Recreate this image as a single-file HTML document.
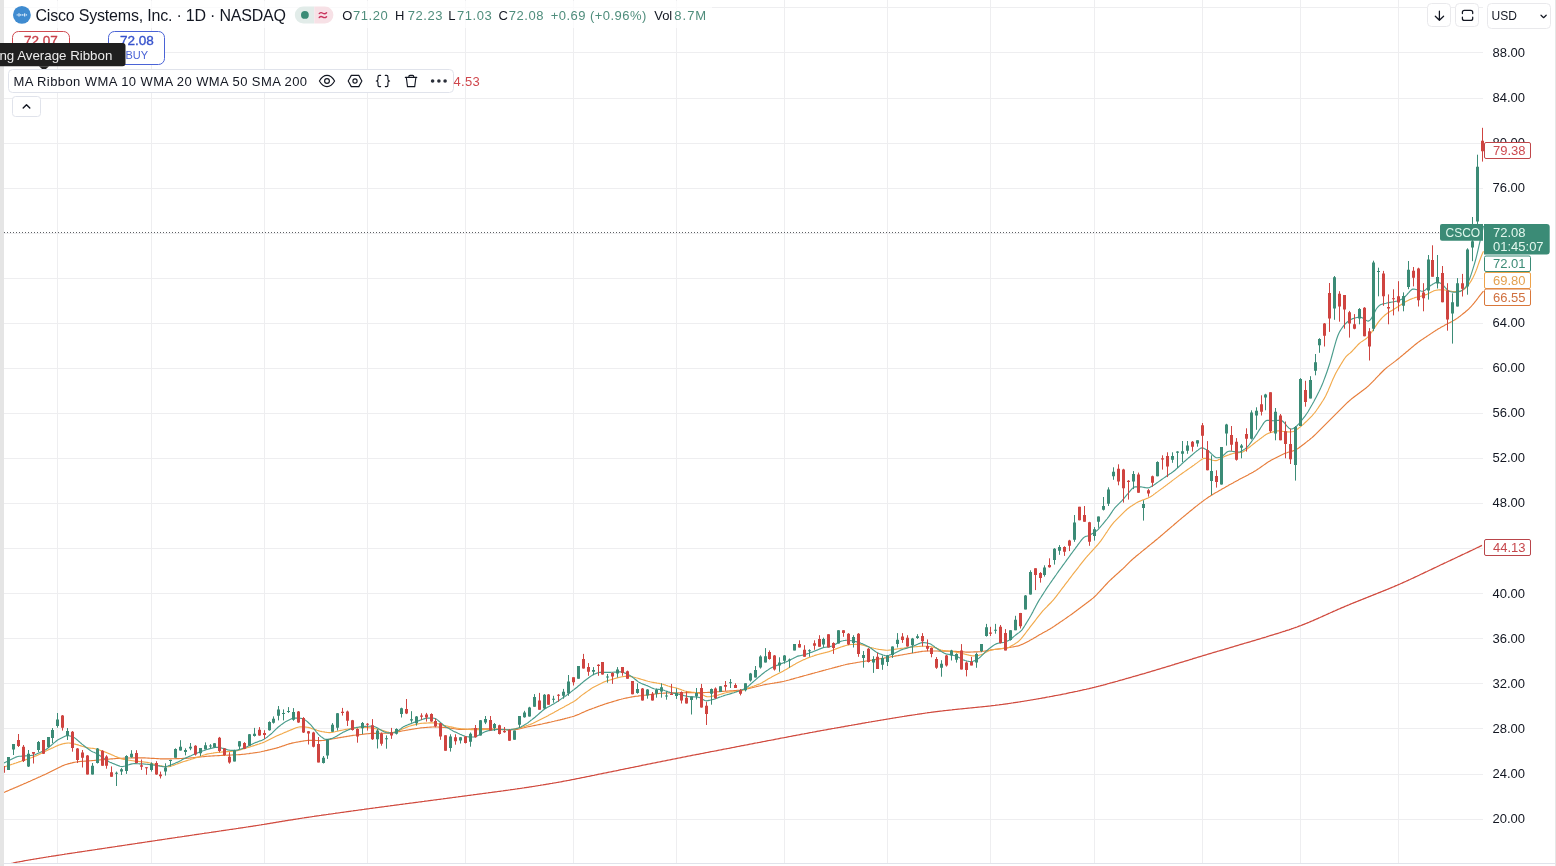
<!DOCTYPE html>
<html><head><meta charset="utf-8"><style>
html,body{margin:0;padding:0}
body{width:1556px;height:866px;overflow:hidden;background:#fff;position:relative;font-family:"Liberation Sans",sans-serif;color:#131722}
svg{position:absolute;left:0;top:0;will-change:transform}
.ax{font-family:"Liberation Sans",sans-serif;font-size:13px;fill:#131722}
.abs{position:absolute;white-space:nowrap}
.lb{font-family:"Liberation Sans",sans-serif;font-size:13px}
.lb2{font-family:"Liberation Sans",sans-serif;font-size:12px}
.t13{font-size:13px;line-height:15px}
.val{color:#4a9e88}
</style></head><body>
<svg width="1556" height="866" viewBox="0 0 1556 866">
<defs><clipPath id="pane"><rect x="4" y="0" width="1480" height="863"/></clipPath></defs>
<rect x="0" y="0" width="4" height="866" fill="#e5e5e5"/>
<rect x="4" y="863" width="1551" height="1" fill="#e0e3eb"/>
<rect x="1555" y="0" width="1" height="866" fill="#e5e5e5"/>
<line x1="4" y1="819.5" x2="1483" y2="819.5" stroke="#eeeef0" stroke-width="1"/>
<line x1="4" y1="774.5" x2="1483" y2="774.5" stroke="#eeeef0" stroke-width="1"/>
<line x1="4" y1="728.5" x2="1483" y2="728.5" stroke="#eeeef0" stroke-width="1"/>
<line x1="4" y1="683.5" x2="1483" y2="683.5" stroke="#eeeef0" stroke-width="1"/>
<line x1="4" y1="638.5" x2="1483" y2="638.5" stroke="#eeeef0" stroke-width="1"/>
<line x1="4" y1="593.5" x2="1483" y2="593.5" stroke="#eeeef0" stroke-width="1"/>
<line x1="4" y1="548.5" x2="1483" y2="548.5" stroke="#eeeef0" stroke-width="1"/>
<line x1="4" y1="503.5" x2="1483" y2="503.5" stroke="#eeeef0" stroke-width="1"/>
<line x1="4" y1="458.5" x2="1483" y2="458.5" stroke="#eeeef0" stroke-width="1"/>
<line x1="4" y1="413.5" x2="1483" y2="413.5" stroke="#eeeef0" stroke-width="1"/>
<line x1="4" y1="368.5" x2="1483" y2="368.5" stroke="#eeeef0" stroke-width="1"/>
<line x1="4" y1="323.5" x2="1483" y2="323.5" stroke="#eeeef0" stroke-width="1"/>
<line x1="4" y1="278.5" x2="1483" y2="278.5" stroke="#eeeef0" stroke-width="1"/>
<line x1="4" y1="233.5" x2="1483" y2="233.5" stroke="#eeeef0" stroke-width="1"/>
<line x1="4" y1="188.5" x2="1483" y2="188.5" stroke="#eeeef0" stroke-width="1"/>
<line x1="4" y1="143.5" x2="1483" y2="143.5" stroke="#eeeef0" stroke-width="1"/>
<line x1="4" y1="98.5" x2="1483" y2="98.5" stroke="#eeeef0" stroke-width="1"/>
<line x1="4" y1="52.5" x2="1483" y2="52.5" stroke="#eeeef0" stroke-width="1"/>
<line x1="4" y1="7.5" x2="1483" y2="7.5" stroke="#eeeef0" stroke-width="1"/>
<line x1="57.5" y1="0" x2="57.5" y2="863" stroke="#eeeef0" stroke-width="1"/>
<line x1="151.5" y1="0" x2="151.5" y2="863" stroke="#eeeef0" stroke-width="1"/>
<line x1="264.5" y1="0" x2="264.5" y2="863" stroke="#eeeef0" stroke-width="1"/>
<line x1="367.5" y1="0" x2="367.5" y2="863" stroke="#eeeef0" stroke-width="1"/>
<line x1="465.5" y1="0" x2="465.5" y2="863" stroke="#eeeef0" stroke-width="1"/>
<line x1="573.5" y1="0" x2="573.5" y2="863" stroke="#eeeef0" stroke-width="1"/>
<line x1="676.5" y1="0" x2="676.5" y2="863" stroke="#eeeef0" stroke-width="1"/>
<line x1="784.5" y1="0" x2="784.5" y2="863" stroke="#eeeef0" stroke-width="1"/>
<line x1="887.5" y1="0" x2="887.5" y2="863" stroke="#eeeef0" stroke-width="1"/>
<line x1="990.5" y1="0" x2="990.5" y2="863" stroke="#eeeef0" stroke-width="1"/>
<line x1="1094.5" y1="0" x2="1094.5" y2="863" stroke="#eeeef0" stroke-width="1"/>
<line x1="1202.5" y1="0" x2="1202.5" y2="863" stroke="#eeeef0" stroke-width="1"/>
<line x1="1300.5" y1="0" x2="1300.5" y2="863" stroke="#eeeef0" stroke-width="1"/>
<line x1="1398.5" y1="0" x2="1398.5" y2="863" stroke="#eeeef0" stroke-width="1"/>
<g clip-path="url(#pane)" fill="none" stroke-linejoin="round">
<polyline points="4.0,865.0 5.0,864.8 6.0,864.6 7.0,864.4 8.0,864.1 9.0,863.9 10.0,863.7 11.0,863.5 12.0,863.3 13.0,863.1 14.0,862.8 15.0,862.6 16.0,862.4 17.0,862.2 18.0,862.0 19.0,861.8 20.0,861.6 21.0,861.5 22.0,861.3 23.0,861.1 24.0,860.9 25.0,860.7 26.0,860.5 27.0,860.3 28.0,860.2 29.0,860.0 30.0,859.8 31.0,859.6 32.0,859.5 33.0,859.3 34.0,859.1 35.0,859.0 36.0,858.8 37.0,858.6 38.0,858.5 39.0,858.3 40.0,858.1 41.0,858.0 42.0,857.8 43.0,857.7 44.0,857.5 45.0,857.3 46.0,857.2 47.0,857.0 48.0,856.9 49.0,856.7 50.0,856.5 51.0,856.4 52.0,856.2 53.0,856.1 54.0,855.9 55.0,855.8 56.0,855.6 57.0,855.4 58.0,855.3 59.0,855.1 60.0,855.0 61.0,854.8 62.0,854.7 63.0,854.5 64.0,854.4 65.0,854.2 66.0,854.0 67.0,853.9 68.0,853.7 69.0,853.6 70.0,853.4 71.0,853.3 72.0,853.1 73.0,853.0 74.0,852.8 75.0,852.7 76.0,852.5 77.0,852.4 78.0,852.2 79.0,852.1 80.0,851.9 81.0,851.8 82.0,851.6 83.0,851.5 84.0,851.3 85.0,851.2 86.0,851.0 87.0,850.9 88.0,850.7 89.0,850.6 90.0,850.4 91.0,850.3 92.0,850.1 93.0,850.0 94.0,849.8 95.0,849.7 96.0,849.5 97.0,849.4 98.0,849.2 99.0,849.1 100.0,848.9 101.0,848.8 102.0,848.6 103.0,848.5 104.0,848.3 105.0,848.2 106.0,848.0 107.0,847.9 108.0,847.7 109.0,847.6 110.0,847.4 111.0,847.3 112.0,847.1 113.0,847.0 114.0,846.8 115.0,846.7 116.0,846.5 117.0,846.4 118.0,846.2 119.0,846.1 120.0,845.9 121.0,845.8 122.0,845.6 123.0,845.5 124.0,845.3 125.0,845.2 126.0,845.0 127.0,844.9 128.0,844.7 129.0,844.6 130.0,844.4 131.0,844.3 132.0,844.1 133.0,844.0 134.0,843.8 135.0,843.7 136.0,843.5 137.0,843.4 138.0,843.2 139.0,843.1 140.0,842.9 141.0,842.8 142.0,842.6 143.0,842.5 144.0,842.3 145.0,842.2 146.0,842.0 147.0,841.9 148.0,841.7 149.0,841.6 150.0,841.4 151.0,841.3 152.0,841.1 153.0,841.0 154.0,840.8 155.0,840.7 156.0,840.5 157.0,840.4 158.0,840.2 159.0,840.1 160.0,839.9 161.0,839.8 162.0,839.6 163.0,839.5 164.0,839.3 165.0,839.2 166.0,839.0 167.0,838.9 168.0,838.7 169.0,838.6 170.0,838.4 171.0,838.3 172.0,838.1 173.0,838.0 174.0,837.8 175.0,837.7 176.0,837.5 177.0,837.4 178.0,837.2 179.0,837.1 180.0,837.0 181.0,836.8 182.0,836.7 183.0,836.5 184.0,836.4 185.0,836.2 186.0,836.1 187.0,835.9 188.0,835.8 189.0,835.6 190.0,835.5 191.0,835.3 192.0,835.2 193.0,835.0 194.0,834.9 195.0,834.7 196.0,834.6 197.0,834.4 198.0,834.3 199.0,834.1 200.0,834.0 201.0,833.8 202.0,833.7 203.0,833.5 204.0,833.4 205.0,833.2 206.0,833.1 207.0,833.0 208.0,832.8 209.0,832.7 210.0,832.5 211.0,832.4 212.0,832.2 213.0,832.1 214.0,831.9 215.0,831.8 216.0,831.6 217.0,831.5 218.0,831.3 219.0,831.2 220.0,831.0 221.0,830.9 222.0,830.7 223.0,830.6 224.0,830.4 225.0,830.3 226.0,830.1 227.0,830.0 228.0,829.8 229.0,829.7 230.0,829.5 231.0,829.4 232.0,829.3 233.0,829.1 234.0,829.0 235.0,828.8 236.0,828.7 237.0,828.5 238.0,828.4 239.0,828.2 240.0,828.1 241.0,827.9 242.0,827.8 243.0,827.6 244.0,827.5 245.0,827.3 246.0,827.2 247.0,827.0 248.0,826.9 249.0,826.7 250.0,826.6 251.0,826.4 252.0,826.3 253.0,826.1 254.0,825.9 255.0,825.8 256.0,825.6 257.0,825.5 258.0,825.3 259.0,825.2 260.0,825.0 261.0,824.9 262.0,824.7 263.0,824.5 264.0,824.4 265.0,824.2 266.0,824.1 267.0,823.9 268.0,823.7 269.0,823.6 270.0,823.4 271.0,823.2 272.0,823.1 273.0,822.9 274.0,822.7 275.0,822.6 276.0,822.4 277.0,822.2 278.0,822.1 279.0,821.9 280.0,821.7 281.0,821.6 282.0,821.4 283.0,821.2 284.0,821.1 285.0,820.9 286.0,820.7 287.0,820.6 288.0,820.4 289.0,820.2 290.0,820.1 291.0,819.9 292.0,819.8 293.0,819.6 294.0,819.4 295.0,819.3 296.0,819.1 297.0,819.0 298.0,818.8 299.0,818.6 300.0,818.5 301.0,818.3 302.0,818.2 303.0,818.0 304.0,817.9 305.0,817.7 306.0,817.6 307.0,817.4 308.0,817.3 309.0,817.1 310.0,817.0 311.0,816.8 312.0,816.7 313.0,816.5 314.0,816.4 315.0,816.2 316.0,816.1 317.0,815.9 318.0,815.8 319.0,815.7 320.0,815.5 321.0,815.4 322.0,815.2 323.0,815.1 324.0,814.9 325.0,814.8 326.0,814.7 327.0,814.5 328.0,814.4 329.0,814.2 330.0,814.1 331.0,814.0 332.0,813.8 333.0,813.7 334.0,813.5 335.0,813.4 336.0,813.2 337.0,813.1 338.0,813.0 339.0,812.8 340.0,812.7 341.0,812.5 342.0,812.4 343.0,812.3 344.0,812.1 345.0,812.0 346.0,811.8 347.0,811.7 348.0,811.6 349.0,811.4 350.0,811.3 351.0,811.1 352.0,811.0 353.0,810.9 354.0,810.7 355.0,810.6 356.0,810.5 357.0,810.3 358.0,810.2 359.0,810.0 360.0,809.9 361.0,809.8 362.0,809.6 363.0,809.5 364.0,809.4 365.0,809.2 366.0,809.1 367.0,808.9 368.0,808.8 369.0,808.7 370.0,808.5 371.0,808.4 372.0,808.3 373.0,808.1 374.0,808.0 375.0,807.9 376.0,807.7 377.0,807.6 378.0,807.5 379.0,807.3 380.0,807.2 381.0,807.1 382.0,806.9 383.0,806.8 384.0,806.7 385.0,806.5 386.0,806.4 387.0,806.3 388.0,806.1 389.0,806.0 390.0,805.9 391.0,805.7 392.0,805.6 393.0,805.5 394.0,805.3 395.0,805.2 396.0,805.1 397.0,804.9 398.0,804.8 399.0,804.7 400.0,804.5 401.0,804.4 402.0,804.3 403.0,804.1 404.0,804.0 405.0,803.9 406.0,803.7 407.0,803.6 408.0,803.5 409.0,803.3 410.0,803.2 411.0,803.1 412.0,803.0 413.0,802.8 414.0,802.7 415.0,802.6 416.0,802.4 417.0,802.3 418.0,802.2 419.0,802.0 420.0,801.9 421.0,801.8 422.0,801.6 423.0,801.5 424.0,801.4 425.0,801.2 426.0,801.1 427.0,801.0 428.0,800.8 429.0,800.7 430.0,800.6 431.0,800.4 432.0,800.3 433.0,800.2 434.0,800.0 435.0,799.9 436.0,799.8 437.0,799.6 438.0,799.5 439.0,799.4 440.0,799.3 441.0,799.1 442.0,799.0 443.0,798.9 444.0,798.7 445.0,798.6 446.0,798.5 447.0,798.3 448.0,798.2 449.0,798.1 450.0,797.9 451.0,797.8 452.0,797.7 453.0,797.5 454.0,797.4 455.0,797.3 456.0,797.1 457.0,797.0 458.0,796.9 459.0,796.7 460.0,796.6 461.0,796.5 462.0,796.3 463.0,796.2 464.0,796.1 465.0,795.9 466.0,795.8 467.0,795.7 468.0,795.5 469.0,795.4 470.0,795.3 471.0,795.1 472.0,795.0 473.0,794.9 474.0,794.7 475.0,794.6 476.0,794.5 477.0,794.3 478.0,794.2 479.0,794.1 480.0,793.9 481.0,793.8 482.0,793.7 483.0,793.5 484.0,793.4 485.0,793.3 486.0,793.1 487.0,793.0 488.0,792.9 489.0,792.7 490.0,792.6 491.0,792.5 492.0,792.3 493.0,792.2 494.0,792.1 495.0,791.9 496.0,791.8 497.0,791.7 498.0,791.5 499.0,791.4 500.0,791.3 501.0,791.1 502.0,791.0 503.0,790.9 504.0,790.7 505.0,790.6 506.0,790.4 507.0,790.3 508.0,790.2 509.0,790.0 510.0,789.9 511.0,789.7 512.0,789.6 513.0,789.5 514.0,789.3 515.0,789.2 516.0,789.0 517.0,788.9 518.0,788.7 519.0,788.6 520.0,788.5 521.0,788.3 522.0,788.2 523.0,788.0 524.0,787.9 525.0,787.7 526.0,787.6 527.0,787.4 528.0,787.3 529.0,787.1 530.0,786.9 531.0,786.8 532.0,786.6 533.0,786.5 534.0,786.3 535.0,786.2 536.0,786.0 537.0,785.8 538.0,785.7 539.0,785.5 540.0,785.4 541.0,785.2 542.0,785.0 543.0,784.9 544.0,784.7 545.0,784.6 546.0,784.4 547.0,784.2 548.0,784.1 549.0,783.9 550.0,783.7 551.0,783.5 552.0,783.4 553.0,783.2 554.0,783.0 555.0,782.8 556.0,782.7 557.0,782.5 558.0,782.3 559.0,782.1 560.0,782.0 561.0,781.8 562.0,781.6 563.0,781.4 564.0,781.2 565.0,781.0 566.0,780.8 567.0,780.6 568.0,780.5 569.0,780.3 570.0,780.1 571.0,779.9 572.0,779.7 573.0,779.5 574.0,779.3 575.0,779.1 576.0,778.9 577.0,778.7 578.0,778.5 579.0,778.3 580.0,778.1 581.0,777.9 582.0,777.7 583.0,777.5 584.0,777.3 585.0,777.1 586.0,776.9 587.0,776.7 588.0,776.5 589.0,776.3 590.0,776.1 591.0,775.9 592.0,775.7 593.0,775.5 594.0,775.3 595.0,775.0 596.0,774.8 597.0,774.6 598.0,774.4 599.0,774.2 600.0,774.0 601.0,773.8 602.0,773.6 603.0,773.4 604.0,773.2 605.0,773.0 606.0,772.8 607.0,772.6 608.0,772.4 609.0,772.2 610.0,772.0 611.0,771.8 612.0,771.6 613.0,771.4 614.0,771.2 615.0,771.0 616.0,770.8 617.0,770.6 618.0,770.4 619.0,770.1 620.0,769.9 621.0,769.7 622.0,769.5 623.0,769.3 624.0,769.1 625.0,768.9 626.0,768.7 627.0,768.5 628.0,768.3 629.0,768.1 630.0,767.9 631.0,767.7 632.0,767.5 633.0,767.3 634.0,767.1 635.0,766.9 636.0,766.7 637.0,766.5 638.0,766.3 639.0,766.1 640.0,765.9 641.0,765.7 642.0,765.4 643.0,765.2 644.0,765.0 645.0,764.8 646.0,764.6 647.0,764.4 648.0,764.2 649.0,764.0 650.0,763.8 651.0,763.6 652.0,763.4 653.0,763.2 654.0,763.0 655.0,762.8 656.0,762.6 657.0,762.4 658.0,762.2 659.0,762.0 660.0,761.8 661.0,761.6 662.0,761.4 663.0,761.2 664.0,761.0 665.0,760.8 666.0,760.6 667.0,760.4 668.0,760.2 669.0,760.0 670.0,759.8 671.0,759.6 672.0,759.4 673.0,759.2 674.0,759.0 675.0,758.8 676.0,758.6 677.0,758.4 678.0,758.2 679.0,758.0 680.0,757.8 681.0,757.6 682.0,757.4 683.0,757.2 684.0,757.0 685.0,756.8 686.0,756.6 687.0,756.4 688.0,756.2 689.0,756.0 690.0,755.8 691.0,755.6 692.0,755.4 693.0,755.2 694.0,755.0 695.0,754.8 696.0,754.6 697.0,754.4 698.0,754.3 699.0,754.1 700.0,753.9 701.0,753.7 702.0,753.5 703.0,753.3 704.0,753.1 705.0,752.9 706.0,752.7 707.0,752.5 708.0,752.3 709.0,752.1 710.0,751.9 711.0,751.7 712.0,751.5 713.0,751.3 714.0,751.2 715.0,751.0 716.0,750.8 717.0,750.6 718.0,750.4 719.0,750.2 720.0,750.0 721.0,749.8 722.0,749.6 723.0,749.4 724.0,749.2 725.0,749.0 726.0,748.8 727.0,748.6 728.0,748.5 729.0,748.3 730.0,748.1 731.0,747.9 732.0,747.7 733.0,747.5 734.0,747.3 735.0,747.1 736.0,746.9 737.0,746.7 738.0,746.5 739.0,746.3 740.0,746.1 741.0,745.9 742.0,745.7 743.0,745.6 744.0,745.4 745.0,745.2 746.0,745.0 747.0,744.8 748.0,744.6 749.0,744.4 750.0,744.2 751.0,744.0 752.0,743.8 753.0,743.6 754.0,743.4 755.0,743.2 756.0,743.0 757.0,742.9 758.0,742.7 759.0,742.5 760.0,742.3 761.0,742.1 762.0,741.9 763.0,741.7 764.0,741.5 765.0,741.3 766.0,741.1 767.0,740.9 768.0,740.7 769.0,740.5 770.0,740.3 771.0,740.2 772.0,740.0 773.0,739.8 774.0,739.6 775.0,739.4 776.0,739.2 777.0,739.0 778.0,738.8 779.0,738.6 780.0,738.4 781.0,738.2 782.0,738.0 783.0,737.8 784.0,737.7 785.0,737.5 786.0,737.3 787.0,737.1 788.0,736.9 789.0,736.7 790.0,736.5 791.0,736.3 792.0,736.1 793.0,735.9 794.0,735.7 795.0,735.6 796.0,735.4 797.0,735.2 798.0,735.0 799.0,734.8 800.0,734.6 801.0,734.4 802.0,734.2 803.0,734.0 804.0,733.9 805.0,733.7 806.0,733.5 807.0,733.3 808.0,733.1 809.0,732.9 810.0,732.7 811.0,732.5 812.0,732.4 813.0,732.2 814.0,732.0 815.0,731.8 816.0,731.6 817.0,731.4 818.0,731.2 819.0,731.1 820.0,730.9 821.0,730.7 822.0,730.5 823.0,730.3 824.0,730.1 825.0,730.0 826.0,729.8 827.0,729.6 828.0,729.4 829.0,729.2 830.0,729.1 831.0,728.9 832.0,728.7 833.0,728.5 834.0,728.4 835.0,728.2 836.0,728.0 837.0,727.8 838.0,727.6 839.0,727.5 840.0,727.3 841.0,727.1 842.0,726.9 843.0,726.8 844.0,726.6 845.0,726.4 846.0,726.2 847.0,726.1 848.0,725.9 849.0,725.7 850.0,725.5 851.0,725.4 852.0,725.2 853.0,725.0 854.0,724.8 855.0,724.6 856.0,724.5 857.0,724.3 858.0,724.1 859.0,723.9 860.0,723.8 861.0,723.6 862.0,723.4 863.0,723.2 864.0,723.1 865.0,722.9 866.0,722.7 867.0,722.5 868.0,722.4 869.0,722.2 870.0,722.0 871.0,721.9 872.0,721.7 873.0,721.5 874.0,721.3 875.0,721.2 876.0,721.0 877.0,720.8 878.0,720.6 879.0,720.5 880.0,720.3 881.0,720.1 882.0,720.0 883.0,719.8 884.0,719.6 885.0,719.5 886.0,719.3 887.0,719.1 888.0,719.0 889.0,718.8 890.0,718.6 891.0,718.5 892.0,718.3 893.0,718.1 894.0,718.0 895.0,717.8 896.0,717.6 897.0,717.5 898.0,717.3 899.0,717.2 900.0,717.0 901.0,716.8 902.0,716.7 903.0,716.5 904.0,716.4 905.0,716.2 906.0,716.1 907.0,715.9 908.0,715.7 909.0,715.6 910.0,715.4 911.0,715.3 912.0,715.1 913.0,715.0 914.0,714.8 915.0,714.7 916.0,714.5 917.0,714.4 918.0,714.2 919.0,714.1 920.0,713.9 921.0,713.8 922.0,713.6 923.0,713.5 924.0,713.3 925.0,713.2 926.0,713.0 927.0,712.9 928.0,712.7 929.0,712.6 930.0,712.5 931.0,712.3 932.0,712.2 933.0,712.1 934.0,711.9 935.0,711.8 936.0,711.7 937.0,711.6 938.0,711.4 939.0,711.3 940.0,711.2 941.0,711.1 942.0,711.0 943.0,710.8 944.0,710.7 945.0,710.6 946.0,710.5 947.0,710.4 948.0,710.3 949.0,710.2 950.0,710.1 951.0,710.0 952.0,709.9 953.0,709.7 954.0,709.6 955.0,709.5 956.0,709.4 957.0,709.3 958.0,709.2 959.0,709.1 960.0,709.0 961.0,708.9 962.0,708.8 963.0,708.7 964.0,708.6 965.0,708.5 966.0,708.4 967.0,708.3 968.0,708.2 969.0,708.1 970.0,708.0 971.0,707.9 972.0,707.8 973.0,707.7 974.0,707.6 975.0,707.5 976.0,707.4 977.0,707.3 978.0,707.2 979.0,707.1 980.0,707.0 981.0,706.9 982.0,706.8 983.0,706.7 984.0,706.6 985.0,706.5 986.0,706.4 987.0,706.3 988.0,706.2 989.0,706.1 990.0,706.0 991.0,705.8 992.0,705.7 993.0,705.6 994.0,705.5 995.0,705.4 996.0,705.2 997.0,705.1 998.0,705.0 999.0,704.9 1000.0,704.7 1001.0,704.6 1002.0,704.5 1003.0,704.3 1004.0,704.2 1005.0,704.1 1006.0,703.9 1007.0,703.8 1008.0,703.6 1009.0,703.5 1010.0,703.3 1011.0,703.2 1012.0,703.0 1013.0,702.9 1014.0,702.7 1015.0,702.6 1016.0,702.4 1017.0,702.3 1018.0,702.1 1019.0,702.0 1020.0,701.8 1021.0,701.6 1022.0,701.5 1023.0,701.3 1024.0,701.2 1025.0,701.0 1026.0,700.8 1027.0,700.7 1028.0,700.5 1029.0,700.3 1030.0,700.2 1031.0,700.0 1032.0,699.8 1033.0,699.7 1034.0,699.5 1035.0,699.3 1036.0,699.2 1037.0,699.0 1038.0,698.8 1039.0,698.6 1040.0,698.5 1041.0,698.3 1042.0,698.1 1043.0,697.9 1044.0,697.8 1045.0,697.6 1046.0,697.4 1047.0,697.2 1048.0,697.0 1049.0,696.9 1050.0,696.7 1051.0,696.5 1052.0,696.3 1053.0,696.1 1054.0,695.9 1055.0,695.7 1056.0,695.5 1057.0,695.3 1058.0,695.2 1059.0,695.0 1060.0,694.8 1061.0,694.6 1062.0,694.4 1063.0,694.2 1064.0,694.0 1065.0,693.8 1066.0,693.6 1067.0,693.3 1068.0,693.1 1069.0,692.9 1070.0,692.7 1071.0,692.5 1072.0,692.3 1073.0,692.1 1074.0,691.9 1075.0,691.7 1076.0,691.5 1077.0,691.3 1078.0,691.0 1079.0,690.8 1080.0,690.6 1081.0,690.4 1082.0,690.2 1083.0,689.9 1084.0,689.7 1085.0,689.5 1086.0,689.3 1087.0,689.0 1088.0,688.8 1089.0,688.6 1090.0,688.3 1091.0,688.1 1092.0,687.9 1093.0,687.6 1094.0,687.4 1095.0,687.1 1096.0,686.9 1097.0,686.6 1098.0,686.4 1099.0,686.1 1100.0,685.9 1101.0,685.6 1102.0,685.3 1103.0,685.1 1104.0,684.8 1105.0,684.6 1106.0,684.3 1107.0,684.0 1108.0,683.7 1109.0,683.5 1110.0,683.2 1111.0,682.9 1112.0,682.7 1113.0,682.4 1114.0,682.1 1115.0,681.8 1116.0,681.5 1117.0,681.3 1118.0,681.0 1119.0,680.7 1120.0,680.4 1121.0,680.1 1122.0,679.9 1123.0,679.6 1124.0,679.3 1125.0,679.0 1126.0,678.7 1127.0,678.4 1128.0,678.2 1129.0,677.9 1130.0,677.6 1131.0,677.3 1132.0,677.0 1133.0,676.7 1134.0,676.4 1135.0,676.2 1136.0,675.9 1137.0,675.6 1138.0,675.3 1139.0,675.0 1140.0,674.7 1141.0,674.4 1142.0,674.1 1143.0,673.8 1144.0,673.6 1145.0,673.3 1146.0,673.0 1147.0,672.7 1148.0,672.4 1149.0,672.1 1150.0,671.8 1151.0,671.5 1152.0,671.2 1153.0,670.9 1154.0,670.6 1155.0,670.3 1156.0,670.0 1157.0,669.7 1158.0,669.4 1159.0,669.1 1160.0,668.8 1161.0,668.5 1162.0,668.2 1163.0,667.9 1164.0,667.6 1165.0,667.3 1166.0,667.0 1167.0,666.7 1168.0,666.4 1169.0,666.1 1170.0,665.8 1171.0,665.5 1172.0,665.2 1173.0,664.9 1174.0,664.6 1175.0,664.2 1176.0,663.9 1177.0,663.6 1178.0,663.3 1179.0,663.0 1180.0,662.7 1181.0,662.4 1182.0,662.1 1183.0,661.8 1184.0,661.5 1185.0,661.2 1186.0,660.9 1187.0,660.6 1188.0,660.3 1189.0,660.0 1190.0,659.7 1191.0,659.4 1192.0,659.1 1193.0,658.7 1194.0,658.4 1195.0,658.1 1196.0,657.8 1197.0,657.5 1198.0,657.2 1199.0,656.9 1200.0,656.6 1201.0,656.3 1202.0,656.0 1203.0,655.7 1204.0,655.4 1205.0,655.1 1206.0,654.8 1207.0,654.5 1208.0,654.2 1209.0,653.9 1210.0,653.6 1211.0,653.3 1212.0,653.0 1213.0,652.7 1214.0,652.4 1215.0,652.1 1216.0,651.8 1217.0,651.5 1218.0,651.2 1219.0,651.0 1220.0,650.7 1221.0,650.4 1222.0,650.1 1223.0,649.8 1224.0,649.5 1225.0,649.2 1226.0,648.9 1227.0,648.6 1228.0,648.3 1229.0,648.0 1230.0,647.7 1231.0,647.4 1232.0,647.1 1233.0,646.8 1234.0,646.5 1235.0,646.2 1236.0,645.9 1237.0,645.6 1238.0,645.3 1239.0,645.0 1240.0,644.7 1241.0,644.4 1242.0,644.1 1243.0,643.8 1244.0,643.5 1245.0,643.2 1246.0,643.0 1247.0,642.7 1248.0,642.4 1249.0,642.1 1250.0,641.8 1251.0,641.5 1252.0,641.2 1253.0,640.9 1254.0,640.6 1255.0,640.3 1256.0,640.0 1257.0,639.7 1258.0,639.4 1259.0,639.1 1260.0,638.8 1261.0,638.5 1262.0,638.2 1263.0,637.9 1264.0,637.6 1265.0,637.3 1266.0,637.0 1267.0,636.6 1268.0,636.3 1269.0,636.0 1270.0,635.7 1271.0,635.4 1272.0,635.1 1273.0,634.8 1274.0,634.5 1275.0,634.2 1276.0,633.9 1277.0,633.6 1278.0,633.3 1279.0,633.0 1280.0,632.7 1281.0,632.3 1282.0,632.0 1283.0,631.7 1284.0,631.4 1285.0,631.1 1286.0,630.7 1287.0,630.4 1288.0,630.1 1289.0,629.8 1290.0,629.4 1291.0,629.1 1292.0,628.7 1293.0,628.4 1294.0,628.0 1295.0,627.7 1296.0,627.3 1297.0,627.0 1298.0,626.6 1299.0,626.2 1300.0,625.8 1301.0,625.5 1302.0,625.1 1303.0,624.7 1304.0,624.3 1305.0,623.9 1306.0,623.5 1307.0,623.1 1308.0,622.7 1309.0,622.3 1310.0,621.8 1311.0,621.4 1312.0,621.0 1313.0,620.6 1314.0,620.1 1315.0,619.7 1316.0,619.2 1317.0,618.8 1318.0,618.4 1319.0,617.9 1320.0,617.5 1321.0,617.0 1322.0,616.6 1323.0,616.1 1324.0,615.7 1325.0,615.2 1326.0,614.8 1327.0,614.3 1328.0,613.9 1329.0,613.4 1330.0,613.0 1331.0,612.5 1332.0,612.1 1333.0,611.6 1334.0,611.2 1335.0,610.8 1336.0,610.3 1337.0,609.9 1338.0,609.4 1339.0,609.0 1340.0,608.6 1341.0,608.1 1342.0,607.7 1343.0,607.3 1344.0,606.9 1345.0,606.4 1346.0,606.0 1347.0,605.6 1348.0,605.2 1349.0,604.8 1350.0,604.3 1351.0,603.9 1352.0,603.5 1353.0,603.1 1354.0,602.7 1355.0,602.3 1356.0,601.9 1357.0,601.5 1358.0,601.1 1359.0,600.7 1360.0,600.3 1361.0,599.9 1362.0,599.5 1363.0,599.1 1364.0,598.7 1365.0,598.3 1366.0,597.9 1367.0,597.5 1368.0,597.1 1369.0,596.7 1370.0,596.3 1371.0,595.9 1372.0,595.5 1373.0,595.1 1374.0,594.7 1375.0,594.3 1376.0,593.9 1377.0,593.5 1378.0,593.1 1379.0,592.7 1380.0,592.3 1381.0,591.9 1382.0,591.5 1383.0,591.1 1384.0,590.7 1385.0,590.3 1386.0,589.9 1387.0,589.5 1388.0,589.1 1389.0,588.7 1390.0,588.2 1391.0,587.8 1392.0,587.4 1393.0,587.0 1394.0,586.6 1395.0,586.1 1396.0,585.7 1397.0,585.3 1398.0,584.8 1399.0,584.4 1400.0,584.0 1401.0,583.5 1402.0,583.1 1403.0,582.6 1404.0,582.2 1405.0,581.7 1406.0,581.3 1407.0,580.8 1408.0,580.4 1409.0,579.9 1410.0,579.5 1411.0,579.0 1412.0,578.5 1413.0,578.1 1414.0,577.6 1415.0,577.1 1416.0,576.7 1417.0,576.2 1418.0,575.7 1419.0,575.3 1420.0,574.8 1421.0,574.3 1422.0,573.8 1423.0,573.4 1424.0,572.9 1425.0,572.4 1426.0,571.9 1427.0,571.5 1428.0,571.0 1429.0,570.5 1430.0,570.0 1431.0,569.6 1432.0,569.1 1433.0,568.6 1434.0,568.1 1435.0,567.7 1436.0,567.2 1437.0,566.7 1438.0,566.2 1439.0,565.8 1440.0,565.3 1441.0,564.8 1442.0,564.3 1443.0,563.9 1444.0,563.4 1445.0,562.9 1446.0,562.5 1447.0,562.0 1448.0,561.5 1449.0,561.0 1450.0,560.6 1451.0,560.1 1452.0,559.6 1453.0,559.2 1454.0,558.7 1455.0,558.2 1456.0,557.7 1457.0,557.3 1458.0,556.8 1459.0,556.3 1460.0,555.9 1461.0,555.4 1462.0,554.9 1463.0,554.4 1464.0,554.0 1465.0,553.5 1466.0,553.0 1467.0,552.6 1468.0,552.1 1469.0,551.6 1470.0,551.1 1471.0,550.7 1472.0,550.2 1473.0,549.7 1474.0,549.2 1475.0,548.8 1476.0,548.3 1477.0,547.8 1478.0,547.3 1479.0,546.9 1480.0,546.4 1481.0,545.9 1482.0,545.4" stroke="#d04a3e" stroke-width="1.25"/>
<polyline points="4.0,792.4 5.0,792.0 6.0,791.5 7.0,791.1 8.0,790.7 9.0,790.3 10.0,789.8 11.0,789.4 12.0,789.0 13.0,788.6 14.0,788.1 15.0,787.7 16.0,787.3 17.0,786.9 18.0,786.4 19.0,786.0 20.0,785.6 21.0,785.1 22.0,784.7 23.0,784.3 24.0,783.8 25.0,783.4 26.0,783.0 27.0,782.5 28.0,782.1 29.0,781.6 30.0,781.2 31.0,780.7 32.0,780.3 33.0,779.8 34.0,779.4 35.0,778.9 36.0,778.5 37.0,778.0 38.0,777.6 39.0,777.1 40.0,776.7 41.0,776.2 42.0,775.8 43.0,775.3 44.0,774.9 45.0,774.4 46.0,774.0 47.0,773.5 48.0,773.0 49.0,772.5 50.0,772.0 51.0,771.5 52.0,771.0 53.0,770.5 54.0,770.0 55.0,769.5 56.0,769.0 57.0,768.5 58.0,768.0 59.0,767.5 60.0,767.0 61.0,766.6 62.0,766.1 63.0,765.6 64.0,765.2 65.0,764.8 66.0,764.5 67.0,764.2 68.0,763.9 69.0,763.6 70.0,763.4 71.0,763.1 72.0,762.9 73.0,762.6 74.0,762.4 75.0,762.2 76.0,762.0 77.0,761.9 78.0,761.7 79.0,761.6 80.0,761.5 81.0,761.4 82.0,761.4 83.0,761.3 84.0,761.2 85.0,761.1 86.0,761.1 87.0,761.0 88.0,760.9 89.0,760.9 90.0,760.8 91.0,760.7 92.0,760.6 93.0,760.5 94.0,760.5 95.0,760.4 96.0,760.3 97.0,760.2 98.0,760.1 99.0,760.0 100.0,759.9 101.0,759.8 102.0,759.7 103.0,759.6 104.0,759.6 105.0,759.5 106.0,759.4 107.0,759.3 108.0,759.2 109.0,759.1 110.0,759.0 111.0,758.9 112.0,758.8 113.0,758.8 114.0,758.7 115.0,758.6 116.0,758.5 117.0,758.4 118.0,758.4 119.0,758.3 120.0,758.3 121.0,758.2 122.0,758.2 123.0,758.2 124.0,758.1 125.0,758.1 126.0,758.1 127.0,758.1 128.0,758.0 129.0,758.0 130.0,758.0 131.0,758.0 132.0,757.9 133.0,757.9 134.0,757.9 135.0,757.9 136.0,757.8 137.0,757.8 138.0,757.8 139.0,757.8 140.0,757.8 141.0,757.8 142.0,757.8 143.0,757.8 144.0,757.9 145.0,757.9 146.0,758.0 147.0,758.0 148.0,758.1 149.0,758.1 150.0,758.2 151.0,758.3 152.0,758.3 153.0,758.4 154.0,758.4 155.0,758.5 156.0,758.5 157.0,758.6 158.0,758.6 159.0,758.7 160.0,758.8 161.0,758.8 162.0,758.8 163.0,758.9 164.0,758.9 165.0,758.9 166.0,758.9 167.0,758.9 168.0,758.9 169.0,758.9 170.0,758.8 171.0,758.8 172.0,758.8 173.0,758.7 174.0,758.7 175.0,758.7 176.0,758.6 177.0,758.6 178.0,758.6 179.0,758.6 180.0,758.5 181.0,758.5 182.0,758.5 183.0,758.4 184.0,758.4 185.0,758.4 186.0,758.3 187.0,758.3 188.0,758.2 189.0,758.1 190.0,758.0 191.0,757.9 192.0,757.8 193.0,757.7 194.0,757.6 195.0,757.5 196.0,757.4 197.0,757.3 198.0,757.2 199.0,757.1 200.0,757.0 201.0,756.9 202.0,756.8 203.0,756.7 204.0,756.6 205.0,756.5 206.0,756.4 207.0,756.3 208.0,756.2 209.0,756.1 210.0,756.1 211.0,756.0 212.0,756.0 213.0,755.9 214.0,755.9 215.0,755.8 216.0,755.7 217.0,755.7 218.0,755.6 219.0,755.6 220.0,755.5 221.0,755.5 222.0,755.4 223.0,755.4 224.0,755.3 225.0,755.3 226.0,755.2 227.0,755.2 228.0,755.1 229.0,755.1 230.0,755.1 231.0,755.0 232.0,755.0 233.0,754.9 234.0,754.9 235.0,754.8 236.0,754.8 237.0,754.7 238.0,754.7 239.0,754.6 240.0,754.6 241.0,754.5 242.0,754.4 243.0,754.3 244.0,754.2 245.0,754.1 246.0,754.0 247.0,753.8 248.0,753.7 249.0,753.6 250.0,753.4 251.0,753.3 252.0,753.2 253.0,753.0 254.0,752.9 255.0,752.8 256.0,752.6 257.0,752.5 258.0,752.3 259.0,752.2 260.0,752.0 261.0,751.8 262.0,751.5 263.0,751.3 264.0,751.1 265.0,750.8 266.0,750.6 267.0,750.4 268.0,750.1 269.0,749.9 270.0,749.7 271.0,749.4 272.0,749.2 273.0,748.9 274.0,748.7 275.0,748.4 276.0,748.2 277.0,747.9 278.0,747.6 279.0,747.3 280.0,746.9 281.0,746.6 282.0,746.2 283.0,745.9 284.0,745.6 285.0,745.2 286.0,744.9 287.0,744.5 288.0,744.2 289.0,743.9 290.0,743.6 291.0,743.4 292.0,743.1 293.0,742.9 294.0,742.7 295.0,742.5 296.0,742.3 297.0,742.1 298.0,742.0 299.0,741.8 300.0,741.6 301.0,741.4 302.0,741.3 303.0,741.1 304.0,740.9 305.0,740.8 306.0,740.6 307.0,740.5 308.0,740.4 309.0,740.4 310.0,740.3 311.0,740.3 312.0,740.3 313.0,740.4 314.0,740.4 315.0,740.4 316.0,740.5 317.0,740.5 318.0,740.5 319.0,740.6 320.0,740.6 321.0,740.6 322.0,740.5 323.0,740.5 324.0,740.4 325.0,740.3 326.0,740.1 327.0,740.0 328.0,739.8 329.0,739.6 330.0,739.4 331.0,739.2 332.0,739.0 333.0,738.8 334.0,738.7 335.0,738.5 336.0,738.3 337.0,738.1 338.0,737.9 339.0,737.8 340.0,737.6 341.0,737.4 342.0,737.3 343.0,737.1 344.0,736.9 345.0,736.8 346.0,736.6 347.0,736.4 348.0,736.3 349.0,736.1 350.0,735.9 351.0,735.8 352.0,735.6 353.0,735.4 354.0,735.3 355.0,735.2 356.0,735.0 357.0,734.9 358.0,734.8 359.0,734.7 360.0,734.6 361.0,734.5 362.0,734.4 363.0,734.2 364.0,734.1 365.0,734.0 366.0,733.9 367.0,733.8 368.0,733.7 369.0,733.6 370.0,733.5 371.0,733.4 372.0,733.4 373.0,733.3 374.0,733.3 375.0,733.3 376.0,733.3 377.0,733.2 378.0,733.2 379.0,733.2 380.0,733.2 381.0,733.2 382.0,733.2 383.0,733.2 384.0,733.2 385.0,733.2 386.0,733.2 387.0,733.1 388.0,733.1 389.0,733.1 390.0,733.0 391.0,733.0 392.0,732.9 393.0,732.7 394.0,732.6 395.0,732.4 396.0,732.2 397.0,732.0 398.0,731.8 399.0,731.6 400.0,731.4 401.0,731.2 402.0,731.0 403.0,730.8 404.0,730.7 405.0,730.5 406.0,730.3 407.0,730.1 408.0,730.0 409.0,729.8 410.0,729.6 411.0,729.5 412.0,729.3 413.0,729.1 414.0,729.0 415.0,728.8 416.0,728.6 417.0,728.5 418.0,728.3 419.0,728.2 420.0,728.0 421.0,727.9 422.0,727.8 423.0,727.7 424.0,727.6 425.0,727.5 426.0,727.5 427.0,727.4 428.0,727.3 429.0,727.2 430.0,727.1 431.0,727.1 432.0,727.0 433.0,727.0 434.0,726.9 435.0,726.9 436.0,727.0 437.0,727.0 438.0,727.0 439.0,727.1 440.0,727.2 441.0,727.2 442.0,727.3 443.0,727.4 444.0,727.4 445.0,727.5 446.0,727.6 447.0,727.7 448.0,727.8 449.0,727.9 450.0,728.1 451.0,728.2 452.0,728.4 453.0,728.5 454.0,728.7 455.0,728.8 456.0,729.0 457.0,729.1 458.0,729.2 459.0,729.4 460.0,729.4 461.0,729.5 462.0,729.5 463.0,729.5 464.0,729.4 465.0,729.4 466.0,729.3 467.0,729.3 468.0,729.2 469.0,729.1 470.0,729.1 471.0,729.0 472.0,728.9 473.0,728.9 474.0,728.8 475.0,728.8 476.0,728.8 477.0,728.8 478.0,728.8 479.0,728.8 480.0,728.8 481.0,728.8 482.0,728.8 483.0,728.8 484.0,728.9 485.0,728.9 486.0,728.9 487.0,728.9 488.0,728.9 489.0,728.9 490.0,729.0 491.0,729.0 492.0,729.0 493.0,729.0 494.0,729.0 495.0,729.0 496.0,729.1 497.0,729.1 498.0,729.1 499.0,729.2 500.0,729.2 501.0,729.2 502.0,729.3 503.0,729.3 504.0,729.4 505.0,729.4 506.0,729.5 507.0,729.5 508.0,729.6 509.0,729.6 510.0,729.6 511.0,729.7 512.0,729.7 513.0,729.7 514.0,729.7 515.0,729.6 516.0,729.5 517.0,729.4 518.0,729.2 519.0,729.0 520.0,728.7 521.0,728.5 522.0,728.3 523.0,728.0 524.0,727.8 525.0,727.5 526.0,727.3 527.0,727.0 528.0,726.8 529.0,726.6 530.0,726.4 531.0,726.2 532.0,726.0 533.0,725.8 534.0,725.6 535.0,725.4 536.0,725.2 537.0,725.0 538.0,724.8 539.0,724.6 540.0,724.4 541.0,724.2 542.0,724.0 543.0,723.7 544.0,723.5 545.0,723.3 546.0,723.1 547.0,722.9 548.0,722.6 549.0,722.4 550.0,722.2 551.0,722.0 552.0,721.7 553.0,721.5 554.0,721.3 555.0,721.0 556.0,720.8 557.0,720.6 558.0,720.3 559.0,720.1 560.0,719.9 561.0,719.6 562.0,719.4 563.0,719.1 564.0,718.9 565.0,718.6 566.0,718.3 567.0,718.1 568.0,717.8 569.0,717.6 570.0,717.3 571.0,717.0 572.0,716.8 573.0,716.5 574.0,716.2 575.0,715.8 576.0,715.4 577.0,715.0 578.0,714.6 579.0,714.2 580.0,713.7 581.0,713.3 582.0,712.8 583.0,712.4 584.0,711.9 585.0,711.5 586.0,711.0 587.0,710.6 588.0,710.2 589.0,709.8 590.0,709.4 591.0,709.1 592.0,708.7 593.0,708.3 594.0,708.0 595.0,707.6 596.0,707.2 597.0,706.9 598.0,706.5 599.0,706.1 600.0,705.8 601.0,705.4 602.0,705.1 603.0,704.7 604.0,704.4 605.0,704.0 606.0,703.7 607.0,703.4 608.0,703.1 609.0,702.8 610.0,702.5 611.0,702.2 612.0,701.9 613.0,701.6 614.0,701.3 615.0,701.0 616.0,700.7 617.0,700.4 618.0,700.1 619.0,699.8 620.0,699.5 621.0,699.3 622.0,699.0 623.0,698.8 624.0,698.5 625.0,698.3 626.0,698.1 627.0,697.9 628.0,697.7 629.0,697.5 630.0,697.3 631.0,697.1 632.0,696.9 633.0,696.8 634.0,696.6 635.0,696.4 636.0,696.3 637.0,696.2 638.0,696.1 639.0,695.9 640.0,695.8 641.0,695.7 642.0,695.6 643.0,695.4 644.0,695.3 645.0,695.2 646.0,695.1 647.0,695.0 648.0,694.8 649.0,694.7 650.0,694.6 651.0,694.5 652.0,694.4 653.0,694.2 654.0,694.1 655.0,694.0 656.0,693.9 657.0,693.8 658.0,693.6 659.0,693.5 660.0,693.4 661.0,693.3 662.0,693.2 663.0,693.2 664.0,693.1 665.0,693.1 666.0,693.0 667.0,693.0 668.0,693.0 669.0,693.0 670.0,693.0 671.0,692.9 672.0,692.9 673.0,692.9 674.0,692.9 675.0,692.9 676.0,692.8 677.0,692.8 678.0,692.8 679.0,692.8 680.0,692.8 681.0,692.7 682.0,692.7 683.0,692.7 684.0,692.7 685.0,692.7 686.0,692.6 687.0,692.6 688.0,692.6 689.0,692.6 690.0,692.6 691.0,692.6 692.0,692.6 693.0,692.6 694.0,692.6 695.0,692.6 696.0,692.6 697.0,692.6 698.0,692.6 699.0,692.6 700.0,692.6 701.0,692.6 702.0,692.6 703.0,692.6 704.0,692.6 705.0,692.5 706.0,692.5 707.0,692.5 708.0,692.4 709.0,692.3 710.0,692.3 711.0,692.2 712.0,692.1 713.0,692.1 714.0,692.0 715.0,691.9 716.0,691.9 717.0,691.8 718.0,691.7 719.0,691.7 720.0,691.6 721.0,691.5 722.0,691.4 723.0,691.4 724.0,691.3 725.0,691.2 726.0,691.2 727.0,691.1 728.0,691.0 729.0,691.0 730.0,690.9 731.0,690.8 732.0,690.8 733.0,690.7 734.0,690.6 735.0,690.5 736.0,690.5 737.0,690.4 738.0,690.3 739.0,690.2 740.0,690.1 741.0,689.9 742.0,689.8 743.0,689.6 744.0,689.4 745.0,689.2 746.0,689.0 747.0,688.8 748.0,688.6 749.0,688.4 750.0,688.2 751.0,688.0 752.0,687.8 753.0,687.5 754.0,687.3 755.0,687.0 756.0,686.8 757.0,686.5 758.0,686.3 759.0,686.0 760.0,685.8 761.0,685.5 762.0,685.3 763.0,685.0 764.0,684.8 765.0,684.6 766.0,684.4 767.0,684.2 768.0,684.0 769.0,683.9 770.0,683.7 771.0,683.5 772.0,683.4 773.0,683.2 774.0,683.1 775.0,682.9 776.0,682.7 777.0,682.6 778.0,682.4 779.0,682.3 780.0,682.1 781.0,681.9 782.0,681.7 783.0,681.5 784.0,681.3 785.0,681.0 786.0,680.8 787.0,680.5 788.0,680.2 789.0,680.0 790.0,679.7 791.0,679.4 792.0,679.1 793.0,678.9 794.0,678.6 795.0,678.3 796.0,678.0 797.0,677.7 798.0,677.5 799.0,677.2 800.0,676.9 801.0,676.6 802.0,676.4 803.0,676.1 804.0,675.8 805.0,675.5 806.0,675.3 807.0,675.0 808.0,674.7 809.0,674.4 810.0,674.2 811.0,673.9 812.0,673.6 813.0,673.3 814.0,673.1 815.0,672.8 816.0,672.5 817.0,672.3 818.0,672.0 819.0,671.7 820.0,671.4 821.0,671.2 822.0,670.9 823.0,670.6 824.0,670.3 825.0,670.1 826.0,669.8 827.0,669.5 828.0,669.3 829.0,669.0 830.0,668.7 831.0,668.5 832.0,668.2 833.0,667.9 834.0,667.7 835.0,667.4 836.0,667.1 837.0,666.9 838.0,666.6 839.0,666.3 840.0,666.1 841.0,665.8 842.0,665.5 843.0,665.3 844.0,665.0 845.0,664.8 846.0,664.5 847.0,664.3 848.0,664.1 849.0,663.9 850.0,663.7 851.0,663.5 852.0,663.4 853.0,663.2 854.0,663.0 855.0,662.9 856.0,662.7 857.0,662.5 858.0,662.3 859.0,662.2 860.0,662.0 861.0,661.8 862.0,661.7 863.0,661.5 864.0,661.4 865.0,661.2 866.0,661.0 867.0,660.9 868.0,660.7 869.0,660.6 870.0,660.4 871.0,660.2 872.0,660.1 873.0,659.9 874.0,659.8 875.0,659.6 876.0,659.4 877.0,659.3 878.0,659.1 879.0,658.9 880.0,658.8 881.0,658.6 882.0,658.4 883.0,658.2 884.0,658.1 885.0,657.9 886.0,657.7 887.0,657.5 888.0,657.3 889.0,657.2 890.0,657.0 891.0,656.8 892.0,656.6 893.0,656.5 894.0,656.3 895.0,656.1 896.0,655.9 897.0,655.7 898.0,655.6 899.0,655.4 900.0,655.2 901.0,655.0 902.0,654.9 903.0,654.7 904.0,654.5 905.0,654.3 906.0,654.2 907.0,654.0 908.0,653.8 909.0,653.6 910.0,653.5 911.0,653.3 912.0,653.1 913.0,653.0 914.0,652.8 915.0,652.6 916.0,652.4 917.0,652.3 918.0,652.1 919.0,651.9 920.0,651.8 921.0,651.6 922.0,651.4 923.0,651.3 924.0,651.2 925.0,651.1 926.0,651.1 927.0,651.0 928.0,651.0 929.0,651.0 930.0,651.0 931.0,651.0 932.0,651.0 933.0,651.0 934.0,651.0 935.0,651.0 936.0,651.0 937.0,651.0 938.0,651.0 939.0,651.1 940.0,651.1 941.0,651.1 942.0,651.1 943.0,651.1 944.0,651.1 945.0,651.1 946.0,651.2 947.0,651.2 948.0,651.2 949.0,651.2 950.0,651.2 951.0,651.2 952.0,651.3 953.0,651.3 954.0,651.3 955.0,651.4 956.0,651.4 957.0,651.5 958.0,651.5 959.0,651.6 960.0,651.7 961.0,651.7 962.0,651.8 963.0,651.9 964.0,651.9 965.0,652.0 966.0,652.1 967.0,652.1 968.0,652.1 969.0,652.1 970.0,652.1 971.0,652.0 972.0,652.0 973.0,652.0 974.0,651.9 975.0,651.9 976.0,651.9 977.0,651.8 978.0,651.8 979.0,651.7 980.0,651.7 981.0,651.6 982.0,651.5 983.0,651.3 984.0,651.2 985.0,651.0 986.0,650.8 987.0,650.6 988.0,650.4 989.0,650.2 990.0,650.1 991.0,649.9 992.0,649.8 993.0,649.7 994.0,649.5 995.0,649.4 996.0,649.3 997.0,649.2 998.0,649.1 999.0,649.0 1000.0,648.9 1001.0,648.8 1002.0,648.6 1003.0,648.5 1004.0,648.3 1005.0,648.2 1006.0,648.0 1007.0,647.9 1008.0,647.7 1009.0,647.5 1010.0,647.4 1011.0,647.2 1012.0,647.0 1013.0,646.9 1014.0,646.7 1015.0,646.5 1016.0,646.3 1017.0,646.1 1018.0,645.9 1019.0,645.6 1020.0,645.2 1021.0,644.8 1022.0,644.4 1023.0,643.9 1024.0,643.4 1025.0,642.9 1026.0,642.4 1027.0,641.9 1028.0,641.4 1029.0,640.9 1030.0,640.3 1031.0,639.8 1032.0,639.2 1033.0,638.7 1034.0,638.1 1035.0,637.5 1036.0,636.9 1037.0,636.3 1038.0,635.7 1039.0,635.1 1040.0,634.5 1041.0,634.0 1042.0,633.4 1043.0,632.8 1044.0,632.3 1045.0,631.7 1046.0,631.2 1047.0,630.7 1048.0,630.1 1049.0,629.5 1050.0,628.9 1051.0,628.3 1052.0,627.7 1053.0,627.0 1054.0,626.4 1055.0,625.7 1056.0,625.0 1057.0,624.3 1058.0,623.7 1059.0,623.0 1060.0,622.3 1061.0,621.6 1062.0,621.0 1063.0,620.3 1064.0,619.6 1065.0,618.9 1066.0,618.2 1067.0,617.5 1068.0,616.8 1069.0,616.1 1070.0,615.4 1071.0,614.7 1072.0,614.0 1073.0,613.2 1074.0,612.5 1075.0,611.7 1076.0,611.0 1077.0,610.2 1078.0,609.5 1079.0,608.7 1080.0,608.0 1081.0,607.2 1082.0,606.5 1083.0,605.7 1084.0,605.0 1085.0,604.2 1086.0,603.5 1087.0,602.7 1088.0,602.0 1089.0,601.2 1090.0,600.5 1091.0,599.7 1092.0,598.9 1093.0,598.1 1094.0,597.2 1095.0,596.3 1096.0,595.3 1097.0,594.3 1098.0,593.2 1099.0,592.2 1100.0,591.1 1101.0,590.0 1102.0,588.9 1103.0,587.8 1104.0,586.7 1105.0,585.6 1106.0,584.5 1107.0,583.5 1108.0,582.4 1109.0,581.4 1110.0,580.4 1111.0,579.5 1112.0,578.5 1113.0,577.6 1114.0,576.7 1115.0,575.8 1116.0,574.9 1117.0,574.0 1118.0,573.1 1119.0,572.2 1120.0,571.3 1121.0,570.4 1122.0,569.5 1123.0,568.6 1124.0,567.6 1125.0,566.7 1126.0,565.7 1127.0,564.7 1128.0,563.7 1129.0,562.7 1130.0,561.7 1131.0,560.7 1132.0,559.8 1133.0,558.9 1134.0,558.0 1135.0,557.2 1136.0,556.3 1137.0,555.5 1138.0,554.7 1139.0,553.9 1140.0,553.1 1141.0,552.2 1142.0,551.4 1143.0,550.6 1144.0,549.8 1145.0,549.0 1146.0,548.2 1147.0,547.4 1148.0,546.5 1149.0,545.7 1150.0,544.9 1151.0,544.1 1152.0,543.3 1153.0,542.5 1154.0,541.7 1155.0,540.8 1156.0,540.0 1157.0,539.2 1158.0,538.4 1159.0,537.5 1160.0,536.7 1161.0,535.8 1162.0,535.0 1163.0,534.1 1164.0,533.3 1165.0,532.4 1166.0,531.5 1167.0,530.7 1168.0,529.8 1169.0,529.0 1170.0,528.1 1171.0,527.3 1172.0,526.4 1173.0,525.6 1174.0,524.7 1175.0,523.8 1176.0,523.0 1177.0,522.1 1178.0,521.3 1179.0,520.4 1180.0,519.6 1181.0,518.8 1182.0,517.9 1183.0,517.1 1184.0,516.3 1185.0,515.5 1186.0,514.6 1187.0,513.8 1188.0,513.0 1189.0,512.1 1190.0,511.3 1191.0,510.5 1192.0,509.7 1193.0,508.9 1194.0,508.0 1195.0,507.2 1196.0,506.4 1197.0,505.7 1198.0,504.9 1199.0,504.1 1200.0,503.3 1201.0,502.6 1202.0,501.8 1203.0,501.1 1204.0,500.3 1205.0,499.6 1206.0,498.9 1207.0,498.2 1208.0,497.5 1209.0,496.8 1210.0,496.2 1211.0,495.5 1212.0,494.9 1213.0,494.3 1214.0,493.7 1215.0,493.1 1216.0,492.5 1217.0,492.0 1218.0,491.4 1219.0,490.8 1220.0,490.2 1221.0,489.7 1222.0,489.1 1223.0,488.5 1224.0,488.0 1225.0,487.4 1226.0,486.8 1227.0,486.2 1228.0,485.7 1229.0,485.1 1230.0,484.5 1231.0,484.0 1232.0,483.4 1233.0,482.9 1234.0,482.3 1235.0,481.8 1236.0,481.2 1237.0,480.7 1238.0,480.2 1239.0,479.6 1240.0,479.1 1241.0,478.6 1242.0,478.1 1243.0,477.5 1244.0,477.0 1245.0,476.5 1246.0,475.9 1247.0,475.4 1248.0,474.9 1249.0,474.3 1250.0,473.8 1251.0,473.3 1252.0,472.7 1253.0,472.2 1254.0,471.6 1255.0,471.0 1256.0,470.4 1257.0,469.7 1258.0,469.0 1259.0,468.4 1260.0,467.7 1261.0,467.0 1262.0,466.3 1263.0,465.6 1264.0,464.9 1265.0,464.2 1266.0,463.5 1267.0,462.8 1268.0,462.1 1269.0,461.5 1270.0,460.9 1271.0,460.3 1272.0,459.7 1273.0,459.2 1274.0,458.7 1275.0,458.2 1276.0,457.7 1277.0,457.2 1278.0,456.7 1279.0,456.2 1280.0,455.7 1281.0,455.2 1282.0,454.7 1283.0,454.2 1284.0,453.8 1285.0,453.4 1286.0,453.0 1287.0,452.7 1288.0,452.3 1289.0,452.0 1290.0,451.8 1291.0,451.5 1292.0,451.2 1293.0,450.9 1294.0,450.5 1295.0,450.1 1296.0,449.7 1297.0,449.1 1298.0,448.5 1299.0,447.8 1300.0,447.0 1301.0,446.3 1302.0,445.5 1303.0,444.7 1304.0,444.0 1305.0,443.2 1306.0,442.4 1307.0,441.6 1308.0,440.8 1309.0,440.1 1310.0,439.3 1311.0,438.4 1312.0,437.6 1313.0,436.7 1314.0,435.8 1315.0,434.8 1316.0,433.9 1317.0,432.9 1318.0,431.9 1319.0,430.9 1320.0,429.9 1321.0,428.9 1322.0,427.9 1323.0,426.9 1324.0,425.9 1325.0,424.9 1326.0,423.9 1327.0,422.9 1328.0,421.9 1329.0,420.9 1330.0,419.9 1331.0,418.9 1332.0,417.9 1333.0,416.9 1334.0,415.9 1335.0,414.9 1336.0,413.9 1337.0,412.9 1338.0,411.9 1339.0,410.9 1340.0,409.9 1341.0,408.9 1342.0,407.9 1343.0,406.9 1344.0,405.9 1345.0,404.9 1346.0,403.9 1347.0,402.9 1348.0,402.0 1349.0,401.1 1350.0,400.2 1351.0,399.4 1352.0,398.5 1353.0,397.8 1354.0,397.0 1355.0,396.2 1356.0,395.5 1357.0,394.8 1358.0,394.0 1359.0,393.3 1360.0,392.5 1361.0,391.8 1362.0,391.0 1363.0,390.3 1364.0,389.5 1365.0,388.8 1366.0,388.0 1367.0,387.1 1368.0,386.3 1369.0,385.4 1370.0,384.4 1371.0,383.4 1372.0,382.4 1373.0,381.4 1374.0,380.3 1375.0,379.3 1376.0,378.2 1377.0,377.2 1378.0,376.1 1379.0,375.1 1380.0,374.0 1381.0,373.0 1382.0,372.0 1383.0,371.0 1384.0,370.0 1385.0,369.1 1386.0,368.2 1387.0,367.4 1388.0,366.6 1389.0,365.9 1390.0,365.1 1391.0,364.4 1392.0,363.6 1393.0,362.9 1394.0,362.1 1395.0,361.4 1396.0,360.6 1397.0,359.8 1398.0,359.0 1399.0,358.2 1400.0,357.4 1401.0,356.5 1402.0,355.7 1403.0,354.9 1404.0,354.0 1405.0,353.2 1406.0,352.3 1407.0,351.5 1408.0,350.7 1409.0,349.8 1410.0,349.0 1411.0,348.1 1412.0,347.3 1413.0,346.5 1414.0,345.6 1415.0,344.8 1416.0,344.0 1417.0,343.2 1418.0,342.4 1419.0,341.7 1420.0,341.0 1421.0,340.3 1422.0,339.6 1423.0,339.0 1424.0,338.3 1425.0,337.6 1426.0,337.0 1427.0,336.3 1428.0,335.6 1429.0,334.9 1430.0,334.3 1431.0,333.6 1432.0,332.9 1433.0,332.3 1434.0,331.6 1435.0,331.0 1436.0,330.3 1437.0,329.7 1438.0,329.0 1439.0,328.4 1440.0,327.9 1441.0,327.3 1442.0,326.7 1443.0,326.2 1444.0,325.7 1445.0,325.1 1446.0,324.6 1447.0,324.1 1448.0,323.5 1449.0,323.0 1450.0,322.5 1451.0,321.9 1452.0,321.4 1453.0,320.8 1454.0,320.3 1455.0,319.7 1456.0,319.1 1457.0,318.4 1458.0,317.7 1459.0,316.9 1460.0,316.2 1461.0,315.4 1462.0,314.6 1463.0,313.8 1464.0,313.0 1465.0,312.2 1466.0,311.3 1467.0,310.5 1468.0,309.6 1469.0,308.7 1470.0,307.7 1471.0,306.7 1472.0,305.5 1473.0,304.3 1474.0,303.1 1475.0,301.8 1476.0,300.6 1477.0,299.3 1478.0,298.0 1479.0,296.7 1480.0,295.4 1481.0,294.2 1482.0,292.9 1483.0,291.6 1483.5,291.0" stroke="#e77d3a" stroke-width="1.15"/>
<polyline points="4.0,767.0 5.0,766.7 6.0,766.3 7.0,766.0 8.0,765.7 9.0,765.3 10.0,765.0 11.0,764.6 12.0,764.3 13.0,764.0 14.0,763.6 15.0,763.3 16.0,763.0 17.0,762.6 18.0,762.3 19.0,761.9 20.0,761.6 21.0,761.3 22.0,760.9 23.0,760.6 24.0,760.3 25.0,759.9 26.0,759.6 27.0,759.2 28.0,758.9 29.0,758.5 30.0,758.2 31.0,757.8 32.0,757.5 33.0,757.1 34.0,756.7 35.0,756.3 36.0,755.9 37.0,755.4 38.0,754.9 39.0,754.4 40.0,753.9 41.0,753.4 42.0,752.9 43.0,752.4 44.0,751.9 45.0,751.4 46.0,750.9 47.0,750.5 48.0,750.0 49.0,749.5 50.0,749.0 51.0,748.6 52.0,748.1 53.0,747.7 54.0,747.2 55.0,746.8 56.0,746.3 57.0,745.9 58.0,745.4 59.0,745.0 60.0,744.7 61.0,744.4 62.0,744.1 63.0,743.8 64.0,743.6 65.0,743.4 66.0,743.2 67.0,743.1 68.0,743.0 69.0,743.0 70.0,743.1 71.0,743.3 72.0,743.5 73.0,743.6 74.0,743.9 75.0,744.1 76.0,744.4 77.0,744.6 78.0,744.9 79.0,745.3 80.0,745.6 81.0,745.9 82.0,746.2 83.0,746.5 84.0,746.8 85.0,747.1 86.0,747.4 87.0,747.6 88.0,747.8 89.0,748.0 90.0,748.1 91.0,748.2 92.0,748.3 93.0,748.4 94.0,748.5 95.0,748.7 96.0,749.0 97.0,749.2 98.0,749.6 99.0,749.9 100.0,750.2 101.0,750.6 102.0,750.9 103.0,751.3 104.0,751.6 105.0,752.0 106.0,752.4 107.0,752.8 108.0,753.2 109.0,753.6 110.0,754.0 111.0,754.4 112.0,754.9 113.0,755.3 114.0,755.7 115.0,756.2 116.0,756.6 117.0,757.0 118.0,757.4 119.0,757.9 120.0,758.2 121.0,758.6 122.0,758.9 123.0,759.1 124.0,759.4 125.0,759.5 126.0,759.7 127.0,759.9 128.0,760.0 129.0,760.2 130.0,760.3 131.0,760.5 132.0,760.7 133.0,760.8 134.0,761.0 135.0,761.1 136.0,761.2 137.0,761.3 138.0,761.4 139.0,761.5 140.0,761.6 141.0,761.7 142.0,761.8 143.0,761.9 144.0,762.0 145.0,762.1 146.0,762.2 147.0,762.4 148.0,762.6 149.0,762.8 150.0,763.0 151.0,763.3 152.0,763.6 153.0,763.9 154.0,764.1 155.0,764.4 156.0,764.7 157.0,765.0 158.0,765.3 159.0,765.5 160.0,765.7 161.0,765.9 162.0,766.1 163.0,766.2 164.0,766.4 165.0,766.5 166.0,766.6 167.0,766.7 168.0,766.7 169.0,766.6 170.0,766.4 171.0,766.1 172.0,765.8 173.0,765.5 174.0,765.1 175.0,764.7 176.0,764.3 177.0,764.0 178.0,763.6 179.0,763.2 180.0,762.9 181.0,762.5 182.0,762.1 183.0,761.8 184.0,761.5 185.0,761.2 186.0,760.9 187.0,760.6 188.0,760.3 189.0,760.0 190.0,759.7 191.0,759.3 192.0,759.0 193.0,758.7 194.0,758.4 195.0,758.0 196.0,757.7 197.0,757.4 198.0,757.0 199.0,756.7 200.0,756.3 201.0,756.0 202.0,755.7 203.0,755.3 204.0,755.0 205.0,754.7 206.0,754.4 207.0,754.1 208.0,753.9 209.0,753.7 210.0,753.5 211.0,753.4 212.0,753.2 213.0,753.1 214.0,752.9 215.0,752.8 216.0,752.6 217.0,752.5 218.0,752.4 219.0,752.3 220.0,752.2 221.0,752.1 222.0,752.0 223.0,751.9 224.0,751.8 225.0,751.8 226.0,751.7 227.0,751.6 228.0,751.6 229.0,751.5 230.0,751.4 231.0,751.4 232.0,751.3 233.0,751.2 234.0,751.1 235.0,751.0 236.0,750.9 237.0,750.7 238.0,750.4 239.0,750.2 240.0,749.9 241.0,749.6 242.0,749.3 243.0,749.0 244.0,748.7 245.0,748.4 246.0,748.1 247.0,747.8 248.0,747.5 249.0,747.2 250.0,746.9 251.0,746.5 252.0,746.2 253.0,745.9 254.0,745.6 255.0,745.3 256.0,744.9 257.0,744.6 258.0,744.3 259.0,744.0 260.0,743.6 261.0,743.3 262.0,743.0 263.0,742.6 264.0,742.2 265.0,741.8 266.0,741.3 267.0,740.8 268.0,740.3 269.0,739.8 270.0,739.3 271.0,738.8 272.0,738.3 273.0,737.8 274.0,737.3 275.0,736.8 276.0,736.3 277.0,735.8 278.0,735.4 279.0,734.9 280.0,734.5 281.0,734.1 282.0,733.7 283.0,733.2 284.0,732.8 285.0,732.4 286.0,732.0 287.0,731.6 288.0,731.1 289.0,730.7 290.0,730.3 291.0,729.9 292.0,729.5 293.0,729.1 294.0,728.6 295.0,728.2 296.0,727.8 297.0,727.5 298.0,727.2 299.0,727.0 300.0,726.8 301.0,726.8 302.0,726.8 303.0,726.9 304.0,726.9 305.0,727.0 306.0,727.1 307.0,727.2 308.0,727.4 309.0,727.6 310.0,727.9 311.0,728.2 312.0,728.6 313.0,728.9 314.0,729.3 315.0,729.6 316.0,729.9 317.0,730.3 318.0,730.6 319.0,730.9 320.0,731.2 321.0,731.4 322.0,731.6 323.0,731.7 324.0,731.9 325.0,732.1 326.0,732.2 327.0,732.4 328.0,732.5 329.0,732.6 330.0,732.6 331.0,732.5 332.0,732.4 333.0,732.2 334.0,732.0 335.0,731.8 336.0,731.5 337.0,731.3 338.0,731.1 339.0,730.8 340.0,730.6 341.0,730.4 342.0,730.2 343.0,730.0 344.0,729.8 345.0,729.6 346.0,729.4 347.0,729.2 348.0,729.0 349.0,728.9 350.0,728.7 351.0,728.5 352.0,728.4 353.0,728.3 354.0,728.2 355.0,728.1 356.0,728.0 357.0,727.9 358.0,727.8 359.0,727.7 360.0,727.7 361.0,727.6 362.0,727.5 363.0,727.4 364.0,727.4 365.0,727.4 366.0,727.4 367.0,727.5 368.0,727.6 369.0,727.7 370.0,727.8 371.0,728.0 372.0,728.1 373.0,728.3 374.0,728.4 375.0,728.6 376.0,728.7 377.0,728.9 378.0,729.2 379.0,729.4 380.0,729.7 381.0,730.0 382.0,730.3 383.0,730.6 384.0,730.9 385.0,731.2 386.0,731.5 387.0,731.8 388.0,732.0 389.0,732.3 390.0,732.5 391.0,732.6 392.0,732.6 393.0,732.4 394.0,732.2 395.0,731.9 396.0,731.6 397.0,731.3 398.0,730.9 399.0,730.5 400.0,730.1 401.0,729.7 402.0,729.2 403.0,728.8 404.0,728.4 405.0,727.9 406.0,727.5 407.0,727.1 408.0,726.7 409.0,726.3 410.0,726.0 411.0,725.7 412.0,725.4 413.0,725.2 414.0,724.9 415.0,724.7 416.0,724.4 417.0,724.2 418.0,723.9 419.0,723.7 420.0,723.5 421.0,723.4 422.0,723.3 423.0,723.2 424.0,723.1 425.0,723.1 426.0,723.1 427.0,723.0 428.0,723.0 429.0,722.9 430.0,722.9 431.0,722.9 432.0,722.8 433.0,722.9 434.0,722.9 435.0,723.1 436.0,723.2 437.0,723.5 438.0,723.7 439.0,724.0 440.0,724.3 441.0,724.6 442.0,724.8 443.0,725.1 444.0,725.4 445.0,725.6 446.0,725.9 447.0,726.1 448.0,726.3 449.0,726.5 450.0,726.7 451.0,726.9 452.0,727.1 453.0,727.3 454.0,727.6 455.0,727.8 456.0,728.0 457.0,728.2 458.0,728.3 459.0,728.5 460.0,728.6 461.0,728.7 462.0,728.8 463.0,728.9 464.0,729.0 465.0,729.1 466.0,729.1 467.0,729.2 468.0,729.3 469.0,729.4 470.0,729.5 471.0,729.6 472.0,729.6 473.0,729.7 474.0,729.7 475.0,729.7 476.0,729.7 477.0,729.7 478.0,729.7 479.0,729.7 480.0,729.7 481.0,729.7 482.0,729.6 483.0,729.6 484.0,729.6 485.0,729.5 486.0,729.5 487.0,729.5 488.0,729.4 489.0,729.4 490.0,729.4 491.0,729.4 492.0,729.4 493.0,729.4 494.0,729.4 495.0,729.4 496.0,729.4 497.0,729.5 498.0,729.5 499.0,729.5 500.0,729.6 501.0,729.6 502.0,729.6 503.0,729.7 504.0,729.7 505.0,729.7 506.0,729.8 507.0,729.8 508.0,729.8 509.0,729.8 510.0,729.7 511.0,729.6 512.0,729.4 513.0,729.2 514.0,729.0 515.0,728.8 516.0,728.6 517.0,728.4 518.0,728.2 519.0,728.0 520.0,727.8 521.0,727.5 522.0,727.2 523.0,726.9 524.0,726.6 525.0,726.2 526.0,725.9 527.0,725.5 528.0,725.2 529.0,724.8 530.0,724.5 531.0,724.1 532.0,723.7 533.0,723.3 534.0,722.8 535.0,722.3 536.0,721.8 537.0,721.3 538.0,720.8 539.0,720.3 540.0,719.8 541.0,719.3 542.0,718.8 543.0,718.3 544.0,717.8 545.0,717.3 546.0,716.8 547.0,716.2 548.0,715.7 549.0,715.1 550.0,714.6 551.0,714.0 552.0,713.5 553.0,712.9 554.0,712.4 555.0,711.8 556.0,711.3 557.0,710.7 558.0,710.2 559.0,709.6 560.0,709.1 561.0,708.5 562.0,708.0 563.0,707.4 564.0,706.9 565.0,706.3 566.0,705.8 567.0,705.2 568.0,704.7 569.0,704.2 570.0,703.6 571.0,703.1 572.0,702.6 573.0,702.0 574.0,701.4 575.0,700.7 576.0,700.0 577.0,699.2 578.0,698.4 579.0,697.6 580.0,696.7 581.0,695.9 582.0,695.1 583.0,694.4 584.0,693.7 585.0,693.0 586.0,692.3 587.0,691.6 588.0,690.9 589.0,690.2 590.0,689.5 591.0,688.8 592.0,688.1 593.0,687.5 594.0,686.9 595.0,686.4 596.0,685.9 597.0,685.4 598.0,684.9 599.0,684.4 600.0,683.9 601.0,683.4 602.0,682.9 603.0,682.4 604.0,682.0 605.0,681.6 606.0,681.2 607.0,680.9 608.0,680.6 609.0,680.3 610.0,680.0 611.0,679.7 612.0,679.4 613.0,679.1 614.0,678.8 615.0,678.5 616.0,678.2 617.0,677.9 618.0,677.7 619.0,677.4 620.0,677.2 621.0,677.0 622.0,676.8 623.0,676.6 624.0,676.5 625.0,676.4 626.0,676.4 627.0,676.4 628.0,676.4 629.0,676.4 630.0,676.5 631.0,676.6 632.0,676.8 633.0,677.0 634.0,677.2 635.0,677.5 636.0,677.8 637.0,678.0 638.0,678.3 639.0,678.6 640.0,678.9 641.0,679.2 642.0,679.5 643.0,679.8 644.0,680.1 645.0,680.4 646.0,680.7 647.0,681.0 648.0,681.3 649.0,681.5 650.0,681.8 651.0,682.0 652.0,682.2 653.0,682.4 654.0,682.6 655.0,682.8 656.0,682.9 657.0,683.1 658.0,683.2 659.0,683.4 660.0,683.6 661.0,683.7 662.0,684.0 663.0,684.2 664.0,684.6 665.0,684.9 666.0,685.3 667.0,685.6 668.0,686.0 669.0,686.3 670.0,686.6 671.0,686.9 672.0,687.1 673.0,687.3 674.0,687.5 675.0,687.7 676.0,687.9 677.0,688.2 678.0,688.5 679.0,688.9 680.0,689.2 681.0,689.6 682.0,690.0 683.0,690.3 684.0,690.7 685.0,691.0 686.0,691.2 687.0,691.5 688.0,691.6 689.0,691.8 690.0,691.9 691.0,692.0 692.0,692.2 693.0,692.3 694.0,692.4 695.0,692.5 696.0,692.7 697.0,692.8 698.0,693.0 699.0,693.3 700.0,693.6 701.0,694.0 702.0,694.6 703.0,695.1 704.0,695.6 705.0,696.1 706.0,696.4 707.0,696.7 708.0,696.7 709.0,696.7 710.0,696.6 711.0,696.4 712.0,696.3 713.0,696.1 714.0,695.9 715.0,695.7 716.0,695.5 717.0,695.3 718.0,695.1 719.0,694.8 720.0,694.5 721.0,694.2 722.0,693.9 723.0,693.6 724.0,693.3 725.0,693.0 726.0,692.8 727.0,692.5 728.0,692.3 729.0,692.1 730.0,692.0 731.0,691.9 732.0,691.8 733.0,691.8 734.0,691.7 735.0,691.7 736.0,691.6 737.0,691.5 738.0,691.5 739.0,691.3 740.0,691.1 741.0,690.9 742.0,690.6 743.0,690.2 744.0,689.8 745.0,689.4 746.0,689.0 747.0,688.6 748.0,688.2 749.0,687.8 750.0,687.5 751.0,687.1 752.0,686.7 753.0,686.3 754.0,686.0 755.0,685.6 756.0,685.3 757.0,684.9 758.0,684.5 759.0,684.1 760.0,683.7 761.0,683.2 762.0,682.7 763.0,682.1 764.0,681.5 765.0,680.9 766.0,680.3 767.0,679.7 768.0,679.1 769.0,678.5 770.0,677.9 771.0,677.4 772.0,676.8 773.0,676.3 774.0,675.8 775.0,675.3 776.0,674.8 777.0,674.3 778.0,673.7 779.0,673.2 780.0,672.7 781.0,672.2 782.0,671.7 783.0,671.2 784.0,670.6 785.0,670.0 786.0,669.5 787.0,668.9 788.0,668.3 789.0,667.7 790.0,667.1 791.0,666.5 792.0,665.9 793.0,665.3 794.0,664.7 795.0,664.2 796.0,663.6 797.0,663.1 798.0,662.6 799.0,662.1 800.0,661.6 801.0,661.1 802.0,660.6 803.0,660.1 804.0,659.6 805.0,659.2 806.0,658.7 807.0,658.3 808.0,657.9 809.0,657.5 810.0,657.2 811.0,656.8 812.0,656.5 813.0,656.1 814.0,655.8 815.0,655.4 816.0,655.1 817.0,654.8 818.0,654.5 819.0,654.2 820.0,653.9 821.0,653.7 822.0,653.4 823.0,653.2 824.0,652.9 825.0,652.7 826.0,652.4 827.0,652.2 828.0,651.9 829.0,651.6 830.0,651.2 831.0,650.9 832.0,650.5 833.0,650.1 834.0,649.7 835.0,649.3 836.0,648.9 837.0,648.5 838.0,648.1 839.0,647.7 840.0,647.4 841.0,647.0 842.0,646.7 843.0,646.4 844.0,646.1 845.0,645.8 846.0,645.5 847.0,645.2 848.0,645.0 849.0,644.8 850.0,644.6 851.0,644.5 852.0,644.5 853.0,644.4 854.0,644.4 855.0,644.3 856.0,644.3 857.0,644.3 858.0,644.3 859.0,644.3 860.0,644.4 861.0,644.6 862.0,644.9 863.0,645.2 864.0,645.5 865.0,645.8 866.0,646.2 867.0,646.5 868.0,646.7 869.0,647.0 870.0,647.3 871.0,647.5 872.0,647.8 873.0,648.0 874.0,648.3 875.0,648.5 876.0,648.8 877.0,649.0 878.0,649.2 879.0,649.4 880.0,649.5 881.0,649.6 882.0,649.8 883.0,649.9 884.0,650.0 885.0,650.1 886.0,650.2 887.0,650.2 888.0,650.2 889.0,650.1 890.0,650.0 891.0,649.9 892.0,649.7 893.0,649.6 894.0,649.4 895.0,649.3 896.0,649.1 897.0,649.0 898.0,648.8 899.0,648.7 900.0,648.6 901.0,648.4 902.0,648.3 903.0,648.2 904.0,648.1 905.0,647.9 906.0,647.8 907.0,647.7 908.0,647.6 909.0,647.5 910.0,647.3 911.0,647.2 912.0,647.1 913.0,647.0 914.0,646.9 915.0,646.8 916.0,646.7 917.0,646.6 918.0,646.5 919.0,646.5 920.0,646.4 921.0,646.3 922.0,646.2 923.0,646.2 924.0,646.2 925.0,646.2 926.0,646.2 927.0,646.3 928.0,646.4 929.0,646.5 930.0,646.6 931.0,646.8 932.0,646.9 933.0,647.1 934.0,647.4 935.0,647.7 936.0,648.1 937.0,648.5 938.0,648.9 939.0,649.3 940.0,649.6 941.0,650.0 942.0,650.2 943.0,650.4 944.0,650.5 945.0,650.6 946.0,650.7 947.0,650.8 948.0,650.9 949.0,651.0 950.0,651.1 951.0,651.2 952.0,651.4 953.0,651.6 954.0,651.8 955.0,652.0 956.0,652.2 957.0,652.4 958.0,652.6 959.0,652.8 960.0,653.0 961.0,653.2 962.0,653.5 963.0,653.7 964.0,653.9 965.0,654.2 966.0,654.4 967.0,654.7 968.0,654.9 969.0,655.2 970.0,655.4 971.0,655.6 972.0,655.8 973.0,655.9 974.0,655.9 975.0,655.8 976.0,655.7 977.0,655.6 978.0,655.5 979.0,655.3 980.0,655.0 981.0,654.7 982.0,654.4 983.0,653.9 984.0,653.4 985.0,652.8 986.0,652.3 987.0,651.8 988.0,651.3 989.0,650.8 990.0,650.5 991.0,650.2 992.0,649.9 993.0,649.7 994.0,649.5 995.0,649.4 996.0,649.2 997.0,649.0 998.0,648.9 999.0,648.7 1000.0,648.6 1001.0,648.5 1002.0,648.5 1003.0,648.4 1004.0,648.3 1005.0,648.2 1006.0,648.1 1007.0,647.9 1008.0,647.6 1009.0,647.2 1010.0,646.7 1011.0,646.1 1012.0,645.5 1013.0,644.9 1014.0,644.4 1015.0,643.8 1016.0,643.1 1017.0,642.5 1018.0,641.8 1019.0,640.9 1020.0,639.9 1021.0,638.8 1022.0,637.6 1023.0,636.4 1024.0,635.1 1025.0,633.8 1026.0,632.5 1027.0,631.2 1028.0,629.9 1029.0,628.6 1030.0,627.2 1031.0,625.9 1032.0,624.7 1033.0,623.4 1034.0,622.1 1035.0,620.8 1036.0,619.5 1037.0,618.2 1038.0,616.9 1039.0,615.6 1040.0,614.3 1041.0,613.1 1042.0,611.9 1043.0,610.7 1044.0,609.7 1045.0,608.6 1046.0,607.6 1047.0,606.6 1048.0,605.5 1049.0,604.5 1050.0,603.5 1051.0,602.5 1052.0,601.4 1053.0,600.3 1054.0,599.2 1055.0,597.9 1056.0,596.7 1057.0,595.3 1058.0,594.0 1059.0,592.7 1060.0,591.4 1061.0,590.0 1062.0,588.7 1063.0,587.4 1064.0,586.1 1065.0,584.7 1066.0,583.4 1067.0,582.1 1068.0,580.8 1069.0,579.4 1070.0,578.1 1071.0,576.8 1072.0,575.5 1073.0,574.2 1074.0,572.9 1075.0,571.6 1076.0,570.4 1077.0,569.1 1078.0,567.8 1079.0,566.5 1080.0,565.2 1081.0,563.9 1082.0,562.6 1083.0,561.3 1084.0,560.1 1085.0,558.9 1086.0,557.7 1087.0,556.5 1088.0,555.4 1089.0,554.3 1090.0,553.2 1091.0,552.1 1092.0,551.0 1093.0,549.9 1094.0,548.8 1095.0,547.7 1096.0,546.6 1097.0,545.5 1098.0,544.4 1099.0,543.2 1100.0,541.9 1101.0,540.6 1102.0,539.2 1103.0,537.7 1104.0,536.2 1105.0,534.7 1106.0,533.2 1107.0,531.8 1108.0,530.3 1109.0,528.8 1110.0,527.3 1111.0,525.9 1112.0,524.6 1113.0,523.4 1114.0,522.2 1115.0,521.2 1116.0,520.1 1117.0,519.1 1118.0,518.1 1119.0,517.1 1120.0,516.1 1121.0,515.1 1122.0,514.1 1123.0,513.1 1124.0,512.1 1125.0,511.1 1126.0,510.2 1127.0,509.3 1128.0,508.5 1129.0,507.7 1130.0,507.0 1131.0,506.3 1132.0,505.7 1133.0,505.0 1134.0,504.4 1135.0,503.8 1136.0,503.1 1137.0,502.6 1138.0,502.0 1139.0,501.5 1140.0,501.1 1141.0,500.7 1142.0,500.3 1143.0,499.9 1144.0,499.6 1145.0,499.2 1146.0,498.8 1147.0,498.4 1148.0,498.0 1149.0,497.5 1150.0,497.0 1151.0,496.4 1152.0,495.8 1153.0,495.1 1154.0,494.3 1155.0,493.6 1156.0,492.8 1157.0,492.1 1158.0,491.4 1159.0,490.6 1160.0,489.9 1161.0,489.1 1162.0,488.4 1163.0,487.7 1164.0,486.9 1165.0,486.2 1166.0,485.4 1167.0,484.7 1168.0,483.9 1169.0,483.2 1170.0,482.4 1171.0,481.7 1172.0,480.9 1173.0,480.1 1174.0,479.4 1175.0,478.6 1176.0,477.9 1177.0,477.1 1178.0,476.4 1179.0,475.6 1180.0,474.9 1181.0,474.2 1182.0,473.5 1183.0,472.8 1184.0,472.1 1185.0,471.4 1186.0,470.7 1187.0,470.0 1188.0,469.3 1189.0,468.6 1190.0,467.9 1191.0,467.2 1192.0,466.5 1193.0,465.8 1194.0,465.1 1195.0,464.3 1196.0,463.6 1197.0,462.9 1198.0,462.1 1199.0,461.4 1200.0,460.6 1201.0,459.9 1202.0,459.3 1203.0,458.8 1204.0,458.4 1205.0,458.3 1206.0,458.4 1207.0,458.6 1208.0,458.8 1209.0,459.1 1210.0,459.4 1211.0,459.8 1212.0,460.1 1213.0,460.3 1214.0,460.5 1215.0,460.6 1216.0,460.6 1217.0,460.4 1218.0,460.0 1219.0,459.5 1220.0,459.0 1221.0,458.4 1222.0,457.8 1223.0,457.3 1224.0,456.8 1225.0,456.3 1226.0,455.9 1227.0,455.5 1228.0,455.1 1229.0,454.8 1230.0,454.4 1231.0,454.1 1232.0,453.8 1233.0,453.5 1234.0,453.3 1235.0,453.1 1236.0,453.0 1237.0,452.8 1238.0,452.7 1239.0,452.6 1240.0,452.5 1241.0,452.4 1242.0,452.1 1243.0,451.7 1244.0,451.2 1245.0,450.6 1246.0,449.9 1247.0,449.1 1248.0,448.3 1249.0,447.5 1250.0,446.7 1251.0,445.9 1252.0,445.1 1253.0,444.3 1254.0,443.5 1255.0,442.7 1256.0,441.9 1257.0,441.2 1258.0,440.4 1259.0,439.7 1260.0,438.9 1261.0,438.2 1262.0,437.4 1263.0,436.7 1264.0,435.9 1265.0,435.2 1266.0,434.6 1267.0,434.0 1268.0,433.5 1269.0,433.1 1270.0,432.8 1271.0,432.5 1272.0,432.2 1273.0,431.9 1274.0,431.6 1275.0,431.4 1276.0,431.2 1277.0,431.0 1278.0,430.9 1279.0,430.9 1280.0,431.0 1281.0,431.1 1282.0,431.2 1283.0,431.4 1284.0,431.5 1285.0,431.6 1286.0,431.8 1287.0,431.9 1288.0,431.9 1289.0,432.0 1290.0,431.9 1291.0,431.9 1292.0,431.7 1293.0,431.5 1294.0,431.2 1295.0,430.7 1296.0,430.1 1297.0,429.4 1298.0,428.7 1299.0,427.9 1300.0,427.1 1301.0,426.3 1302.0,425.4 1303.0,424.6 1304.0,423.7 1305.0,422.7 1306.0,421.8 1307.0,420.8 1308.0,419.8 1309.0,418.8 1310.0,417.8 1311.0,416.8 1312.0,415.8 1313.0,414.7 1314.0,413.5 1315.0,412.3 1316.0,411.0 1317.0,409.5 1318.0,408.1 1319.0,406.6 1320.0,405.1 1321.0,403.6 1322.0,402.0 1323.0,400.5 1324.0,398.9 1325.0,397.1 1326.0,395.2 1327.0,393.1 1328.0,390.9 1329.0,388.5 1330.0,386.2 1331.0,383.8 1332.0,381.4 1333.0,379.1 1334.0,376.9 1335.0,374.8 1336.0,372.8 1337.0,371.0 1338.0,369.3 1339.0,367.6 1340.0,365.9 1341.0,364.2 1342.0,362.6 1343.0,361.0 1344.0,359.4 1345.0,358.0 1346.0,356.7 1347.0,355.6 1348.0,354.7 1349.0,353.9 1350.0,353.1 1351.0,352.2 1352.0,351.3 1353.0,350.2 1354.0,349.1 1355.0,348.0 1356.0,346.9 1357.0,345.8 1358.0,344.7 1359.0,343.8 1360.0,342.9 1361.0,342.1 1362.0,341.4 1363.0,340.8 1364.0,340.1 1365.0,339.5 1366.0,338.7 1367.0,337.9 1368.0,336.9 1369.0,335.7 1370.0,334.4 1371.0,333.0 1372.0,331.6 1373.0,330.1 1374.0,328.6 1375.0,327.1 1376.0,325.6 1377.0,324.1 1378.0,322.6 1379.0,321.3 1380.0,320.1 1381.0,319.0 1382.0,317.9 1383.0,316.9 1384.0,316.0 1385.0,315.0 1386.0,314.2 1387.0,313.5 1388.0,312.8 1389.0,312.2 1390.0,311.6 1391.0,311.0 1392.0,310.4 1393.0,309.8 1394.0,309.2 1395.0,308.6 1396.0,307.9 1397.0,307.3 1398.0,306.7 1399.0,306.0 1400.0,305.3 1401.0,304.7 1402.0,304.0 1403.0,303.3 1404.0,302.7 1405.0,302.0 1406.0,301.4 1407.0,300.9 1408.0,300.4 1409.0,299.9 1410.0,299.5 1411.0,299.1 1412.0,298.7 1413.0,298.3 1414.0,298.0 1415.0,297.6 1416.0,297.3 1417.0,297.1 1418.0,296.8 1419.0,296.6 1420.0,296.4 1421.0,296.2 1422.0,295.9 1423.0,295.7 1424.0,295.4 1425.0,295.0 1426.0,294.6 1427.0,294.2 1428.0,293.7 1429.0,293.2 1430.0,292.7 1431.0,292.2 1432.0,291.7 1433.0,291.3 1434.0,290.8 1435.0,290.5 1436.0,290.2 1437.0,290.1 1438.0,290.0 1439.0,289.9 1440.0,289.9 1441.0,289.9 1442.0,289.9 1443.0,289.9 1444.0,290.0 1445.0,290.0 1446.0,290.2 1447.0,290.3 1448.0,290.5 1449.0,290.8 1450.0,291.0 1451.0,291.2 1452.0,291.4 1453.0,291.5 1454.0,291.6 1455.0,291.6 1456.0,291.5 1457.0,291.4 1458.0,291.3 1459.0,291.2 1460.0,291.0 1461.0,290.8 1462.0,290.5 1463.0,290.1 1464.0,289.4 1465.0,288.6 1466.0,287.6 1467.0,286.5 1468.0,285.4 1469.0,284.1 1470.0,282.7 1471.0,281.1 1472.0,279.4 1473.0,277.5 1474.0,275.4 1475.0,273.2 1476.0,270.8 1477.0,268.2 1478.0,265.4 1479.0,262.5 1480.0,259.7 1481.0,257.0 1482.0,254.5 1483.0,252.2 1483.5,251.2" stroke="#f2aa4c" stroke-width="1.15"/>
<polyline points="4.0,763.0 5.0,762.5 6.0,762.0 7.0,761.5 8.0,761.0 9.0,760.5 10.0,760.0 11.0,759.5 12.0,759.0 13.0,758.5 14.0,758.0 15.0,757.6 16.0,757.1 17.0,756.7 18.0,756.5 19.0,756.3 20.0,756.2 21.0,756.2 22.0,756.1 23.0,756.0 24.0,756.0 25.0,755.9 26.0,755.9 27.0,755.8 28.0,755.7 29.0,755.7 30.0,755.6 31.0,755.5 32.0,755.4 33.0,755.3 34.0,755.0 35.0,754.7 36.0,754.2 37.0,753.8 38.0,753.3 39.0,752.9 40.0,752.4 41.0,752.0 42.0,751.5 43.0,751.1 44.0,750.6 45.0,750.1 46.0,749.5 47.0,748.8 48.0,748.0 49.0,747.2 50.0,746.3 51.0,745.5 52.0,744.6 53.0,743.8 54.0,742.9 55.0,742.1 56.0,741.3 57.0,740.5 58.0,739.8 59.0,739.2 60.0,738.7 61.0,738.2 62.0,737.7 63.0,737.2 64.0,736.7 65.0,736.2 66.0,735.9 67.0,735.6 68.0,735.6 69.0,735.8 70.0,736.0 71.0,736.3 72.0,736.5 73.0,736.9 74.0,737.4 75.0,738.1 76.0,738.9 77.0,739.7 78.0,740.6 79.0,741.5 80.0,742.4 81.0,743.2 82.0,744.1 83.0,744.9 84.0,745.7 85.0,746.5 86.0,747.2 87.0,748.0 88.0,748.7 89.0,749.5 90.0,750.2 91.0,750.9 92.0,751.5 93.0,752.0 94.0,752.3 95.0,752.8 96.0,753.2 97.0,753.8 98.0,754.4 99.0,755.1 100.0,755.7 101.0,756.4 102.0,757.0 103.0,757.7 104.0,758.4 105.0,759.1 106.0,759.8 107.0,760.5 108.0,761.1 109.0,761.7 110.0,762.2 111.0,762.6 112.0,763.1 113.0,763.5 114.0,763.9 115.0,764.3 116.0,764.7 117.0,765.1 118.0,765.5 119.0,765.9 120.0,766.3 121.0,766.5 122.0,766.6 123.0,766.5 124.0,766.2 125.0,766.0 126.0,765.6 127.0,765.3 128.0,765.0 129.0,764.7 130.0,764.4 131.0,764.1 132.0,763.9 133.0,763.7 134.0,763.6 135.0,763.6 136.0,763.6 137.0,763.7 138.0,763.7 139.0,763.8 140.0,763.8 141.0,763.8 142.0,763.9 143.0,763.9 144.0,764.0 145.0,764.1 146.0,764.2 147.0,764.3 148.0,764.4 149.0,764.5 150.0,764.6 151.0,764.7 152.0,764.9 153.0,765.0 154.0,765.1 155.0,765.2 156.0,765.4 157.0,765.5 158.0,765.7 159.0,765.9 160.0,766.1 161.0,766.2 162.0,766.4 163.0,766.6 164.0,766.7 165.0,766.7 166.0,766.6 167.0,766.3 168.0,766.0 169.0,765.6 170.0,765.2 171.0,764.8 172.0,764.5 173.0,764.1 174.0,763.7 175.0,763.3 176.0,762.8 177.0,762.4 178.0,761.9 179.0,761.4 180.0,760.9 181.0,760.4 182.0,759.8 183.0,759.3 184.0,758.8 185.0,758.3 186.0,757.8 187.0,757.4 188.0,756.9 189.0,756.5 190.0,756.1 191.0,755.7 192.0,755.2 193.0,754.8 194.0,754.4 195.0,754.0 196.0,753.6 197.0,753.1 198.0,752.7 199.0,752.3 200.0,751.9 201.0,751.6 202.0,751.2 203.0,750.8 204.0,750.5 205.0,750.1 206.0,749.8 207.0,749.5 208.0,749.2 209.0,748.9 210.0,748.6 211.0,748.4 212.0,748.1 213.0,747.9 214.0,747.7 215.0,747.4 216.0,747.3 217.0,747.3 218.0,747.4 219.0,747.5 220.0,747.7 221.0,747.9 222.0,748.2 223.0,748.4 224.0,748.6 225.0,748.9 226.0,749.2 227.0,749.6 228.0,749.9 229.0,750.1 230.0,750.3 231.0,750.4 232.0,750.4 233.0,750.4 234.0,750.4 235.0,750.3 236.0,750.3 237.0,750.1 238.0,749.9 239.0,749.6 240.0,749.3 241.0,749.0 242.0,748.7 243.0,748.4 244.0,748.1 245.0,747.7 246.0,747.2 247.0,746.7 248.0,746.2 249.0,745.8 250.0,745.3 251.0,744.8 252.0,744.3 253.0,743.8 254.0,743.3 255.0,742.8 256.0,742.4 257.0,742.1 258.0,741.7 259.0,741.3 260.0,740.9 261.0,740.6 262.0,740.2 263.0,739.7 264.0,739.2 265.0,738.6 266.0,737.9 267.0,737.2 268.0,736.4 269.0,735.6 270.0,734.8 271.0,734.0 272.0,733.1 273.0,732.1 274.0,731.1 275.0,730.1 276.0,729.1 277.0,728.2 278.0,727.3 279.0,726.5 280.0,725.7 281.0,724.9 282.0,724.2 283.0,723.5 284.0,722.8 285.0,722.1 286.0,721.5 287.0,721.0 288.0,720.5 289.0,720.0 290.0,719.5 291.0,719.0 292.0,718.6 293.0,718.3 294.0,718.1 295.0,718.0 296.0,718.1 297.0,718.1 298.0,718.2 299.0,718.2 300.0,718.3 301.0,718.4 302.0,718.5 303.0,718.8 304.0,719.2 305.0,719.9 306.0,720.6 307.0,721.4 308.0,722.3 309.0,723.2 310.0,724.1 311.0,725.2 312.0,726.4 313.0,727.6 314.0,728.9 315.0,730.2 316.0,731.5 317.0,732.7 318.0,733.9 319.0,734.9 320.0,735.8 321.0,736.6 322.0,737.3 323.0,738.1 324.0,738.7 325.0,739.2 326.0,739.4 327.0,739.4 328.0,739.3 329.0,739.1 330.0,738.9 331.0,738.6 332.0,738.4 333.0,738.1 334.0,737.6 335.0,737.1 336.0,736.5 337.0,735.9 338.0,735.3 339.0,734.7 340.0,734.1 341.0,733.5 342.0,732.9 343.0,732.3 344.0,731.9 345.0,731.4 346.0,730.9 347.0,730.5 348.0,730.1 349.0,729.6 350.0,729.2 351.0,728.8 352.0,728.5 353.0,728.2 354.0,727.9 355.0,727.7 356.0,727.6 357.0,727.4 358.0,727.2 359.0,727.0 360.0,726.8 361.0,726.7 362.0,726.6 363.0,726.5 364.0,726.5 365.0,726.4 366.0,726.4 367.0,726.3 368.0,726.2 369.0,726.2 370.0,726.2 371.0,726.1 372.0,726.2 373.0,726.3 374.0,726.5 375.0,726.8 376.0,727.2 377.0,727.7 378.0,728.3 379.0,728.9 380.0,729.5 381.0,730.1 382.0,730.7 383.0,731.2 384.0,731.7 385.0,732.1 386.0,732.5 387.0,732.8 388.0,732.9 389.0,732.9 390.0,732.9 391.0,732.8 392.0,732.8 393.0,732.7 394.0,732.6 395.0,732.4 396.0,732.1 397.0,731.6 398.0,730.9 399.0,730.2 400.0,729.4 401.0,728.6 402.0,727.8 403.0,727.1 404.0,726.5 405.0,726.1 406.0,725.6 407.0,725.2 408.0,724.8 409.0,724.4 410.0,724.0 411.0,723.6 412.0,723.2 413.0,722.8 414.0,722.4 415.0,722.0 416.0,721.6 417.0,721.3 418.0,720.9 419.0,720.6 420.0,720.2 421.0,719.9 422.0,719.5 423.0,719.2 424.0,718.9 425.0,718.6 426.0,718.3 427.0,718.2 428.0,718.1 429.0,718.1 430.0,718.1 431.0,718.1 432.0,718.1 433.0,718.1 434.0,718.2 435.0,718.5 436.0,718.9 437.0,719.6 438.0,720.4 439.0,721.2 440.0,722.1 441.0,723.0 442.0,723.8 443.0,724.7 444.0,725.5 445.0,726.2 446.0,726.9 447.0,727.5 448.0,728.1 449.0,728.6 450.0,729.2 451.0,729.8 452.0,730.3 453.0,730.9 454.0,731.4 455.0,731.9 456.0,732.3 457.0,732.8 458.0,733.3 459.0,733.7 460.0,734.2 461.0,734.6 462.0,735.1 463.0,735.5 464.0,735.9 465.0,736.3 466.0,736.5 467.0,736.7 468.0,736.8 469.0,736.8 470.0,736.9 471.0,737.0 472.0,737.0 473.0,737.0 474.0,737.0 475.0,736.8 476.0,736.4 477.0,735.9 478.0,735.4 479.0,734.9 480.0,734.3 481.0,733.8 482.0,733.3 483.0,732.8 484.0,732.3 485.0,731.8 486.0,731.4 487.0,731.1 488.0,730.8 489.0,730.6 490.0,730.5 491.0,730.3 492.0,730.2 493.0,730.0 494.0,729.9 495.0,729.8 496.0,729.6 497.0,729.5 498.0,729.4 499.0,729.4 500.0,729.4 501.0,729.5 502.0,729.5 503.0,729.6 504.0,729.6 505.0,729.7 506.0,729.7 507.0,729.8 508.0,729.8 509.0,729.8 510.0,729.7 511.0,729.6 512.0,729.4 513.0,729.2 514.0,729.0 515.0,728.9 516.0,728.7 517.0,728.4 518.0,728.2 519.0,727.8 520.0,727.4 521.0,726.9 522.0,726.3 523.0,725.8 524.0,725.2 525.0,724.6 526.0,724.0 527.0,723.4 528.0,722.7 529.0,721.9 530.0,721.1 531.0,720.3 532.0,719.6 533.0,718.8 534.0,718.0 535.0,717.2 536.0,716.3 537.0,715.5 538.0,714.6 539.0,713.7 540.0,712.8 541.0,712.0 542.0,711.1 543.0,710.3 544.0,709.5 545.0,708.8 546.0,708.2 547.0,707.6 548.0,707.0 549.0,706.5 550.0,705.9 551.0,705.4 552.0,704.8 553.0,704.3 554.0,703.7 555.0,703.1 556.0,702.5 557.0,701.8 558.0,701.2 559.0,700.5 560.0,699.8 561.0,699.1 562.0,698.4 563.0,697.7 564.0,697.0 565.0,696.4 566.0,695.7 567.0,694.9 568.0,694.2 569.0,693.4 570.0,692.7 571.0,691.9 572.0,691.1 573.0,690.3 574.0,689.6 575.0,688.8 576.0,688.0 577.0,687.2 578.0,686.3 579.0,685.5 580.0,684.7 581.0,683.8 582.0,683.0 583.0,682.1 584.0,681.3 585.0,680.5 586.0,679.7 587.0,679.0 588.0,678.3 589.0,677.5 590.0,676.8 591.0,676.1 592.0,675.5 593.0,674.8 594.0,674.3 595.0,673.9 596.0,673.5 597.0,673.1 598.0,672.8 599.0,672.5 600.0,672.4 601.0,672.3 602.0,672.3 603.0,672.3 604.0,672.3 605.0,672.3 606.0,672.3 607.0,672.3 608.0,672.3 609.0,672.3 610.0,672.3 611.0,672.3 612.0,672.2 613.0,672.2 614.0,672.1 615.0,672.1 616.0,672.1 617.0,672.0 618.0,672.0 619.0,671.9 620.0,671.9 621.0,671.9 622.0,672.1 623.0,672.3 624.0,672.7 625.0,673.1 626.0,673.5 627.0,673.9 628.0,674.4 629.0,674.9 630.0,675.4 631.0,676.1 632.0,676.8 633.0,677.6 634.0,678.4 635.0,679.2 636.0,680.0 637.0,680.8 638.0,681.6 639.0,682.3 640.0,682.8 641.0,683.3 642.0,683.7 643.0,684.1 644.0,684.5 645.0,684.9 646.0,685.3 647.0,685.6 648.0,686.1 649.0,686.5 650.0,687.0 651.0,687.5 652.0,687.9 653.0,688.4 654.0,688.8 655.0,689.0 656.0,689.2 657.0,689.3 658.0,689.4 659.0,689.4 660.0,689.5 661.0,689.6 662.0,689.8 663.0,690.0 664.0,690.3 665.0,690.7 666.0,691.0 667.0,691.4 668.0,691.8 669.0,692.1 670.0,692.4 671.0,692.6 672.0,692.9 673.0,693.1 674.0,693.2 675.0,693.4 676.0,693.6 677.0,693.8 678.0,694.1 679.0,694.3 680.0,694.6 681.0,694.8 682.0,695.1 683.0,695.3 684.0,695.6 685.0,695.8 686.0,696.1 687.0,696.3 688.0,696.5 689.0,696.6 690.0,696.7 691.0,696.7 692.0,696.8 693.0,696.9 694.0,696.9 695.0,697.0 696.0,697.0 697.0,697.1 698.0,697.2 699.0,697.4 700.0,697.7 701.0,698.3 702.0,698.9 703.0,699.5 704.0,700.1 705.0,700.5 706.0,700.8 707.0,700.8 708.0,700.6 709.0,700.4 710.0,700.2 711.0,700.0 712.0,699.8 713.0,699.5 714.0,699.2 715.0,698.9 716.0,698.5 717.0,698.2 718.0,697.8 719.0,697.4 720.0,697.0 721.0,696.7 722.0,696.3 723.0,696.0 724.0,695.6 725.0,695.3 726.0,695.0 727.0,694.7 728.0,694.4 729.0,694.2 730.0,693.9 731.0,693.6 732.0,693.3 733.0,693.0 734.0,692.7 735.0,692.3 736.0,692.0 737.0,691.6 738.0,691.3 739.0,690.9 740.0,690.6 741.0,690.2 742.0,689.9 743.0,689.5 744.0,689.1 745.0,688.6 746.0,688.0 747.0,687.3 748.0,686.5 749.0,685.6 750.0,684.7 751.0,683.8 752.0,682.9 753.0,682.0 754.0,681.1 755.0,680.3 756.0,679.4 757.0,678.5 758.0,677.6 759.0,676.8 760.0,676.0 761.0,675.1 762.0,674.3 763.0,673.5 764.0,672.7 765.0,671.9 766.0,671.2 767.0,670.5 768.0,669.9 769.0,669.2 770.0,668.6 771.0,668.1 772.0,667.6 773.0,667.1 774.0,666.7 775.0,666.2 776.0,665.8 777.0,665.4 778.0,665.0 779.0,664.6 780.0,664.2 781.0,663.8 782.0,663.4 783.0,663.0 784.0,662.6 785.0,662.3 786.0,661.9 787.0,661.5 788.0,661.1 789.0,660.6 790.0,660.1 791.0,659.6 792.0,659.0 793.0,658.5 794.0,657.9 795.0,657.4 796.0,656.9 797.0,656.4 798.0,656.1 799.0,655.9 800.0,655.7 801.0,655.5 802.0,655.3 803.0,655.1 804.0,654.9 805.0,654.6 806.0,654.2 807.0,653.9 808.0,653.5 809.0,653.2 810.0,652.8 811.0,652.4 812.0,652.1 813.0,651.7 814.0,651.3 815.0,650.9 816.0,650.5 817.0,650.1 818.0,649.7 819.0,649.3 820.0,648.9 821.0,648.5 822.0,648.1 823.0,647.8 824.0,647.5 825.0,647.3 826.0,647.2 827.0,647.0 828.0,646.9 829.0,646.7 830.0,646.6 831.0,646.3 832.0,646.0 833.0,645.5 834.0,645.0 835.0,644.5 836.0,643.9 837.0,643.3 838.0,642.8 839.0,642.2 840.0,641.8 841.0,641.3 842.0,641.0 843.0,640.8 844.0,640.5 845.0,640.4 846.0,640.2 847.0,640.2 848.0,640.3 849.0,640.4 850.0,640.5 851.0,640.7 852.0,640.8 853.0,641.0 854.0,641.1 855.0,641.4 856.0,641.6 857.0,641.9 858.0,642.3 859.0,642.6 860.0,642.9 861.0,643.3 862.0,643.6 863.0,644.1 864.0,644.5 865.0,645.0 866.0,645.5 867.0,646.0 868.0,646.5 869.0,647.1 870.0,647.7 871.0,648.3 872.0,649.0 873.0,649.8 874.0,650.5 875.0,651.2 876.0,651.9 877.0,652.5 878.0,653.0 879.0,653.5 880.0,653.9 881.0,654.2 882.0,654.6 883.0,655.0 884.0,655.3 885.0,655.6 886.0,655.8 887.0,655.7 888.0,655.5 889.0,655.3 890.0,654.9 891.0,654.6 892.0,654.2 893.0,653.8 894.0,653.4 895.0,652.9 896.0,652.4 897.0,651.9 898.0,651.4 899.0,650.9 900.0,650.4 901.0,650.0 902.0,649.6 903.0,649.3 904.0,649.0 905.0,648.7 906.0,648.4 907.0,648.1 908.0,647.8 909.0,647.5 910.0,647.2 911.0,646.9 912.0,646.6 913.0,646.2 914.0,645.8 915.0,645.4 916.0,644.9 917.0,644.5 918.0,644.1 919.0,643.6 920.0,643.2 921.0,642.9 922.0,642.6 923.0,642.6 924.0,642.6 925.0,642.8 926.0,642.9 927.0,643.0 928.0,643.2 929.0,643.5 930.0,643.8 931.0,644.3 932.0,644.9 933.0,645.6 934.0,646.3 935.0,647.1 936.0,647.8 937.0,648.5 938.0,649.2 939.0,649.9 940.0,650.5 941.0,651.2 942.0,651.9 943.0,652.5 944.0,653.1 945.0,653.5 946.0,653.9 947.0,654.1 948.0,654.3 949.0,654.4 950.0,654.6 951.0,654.8 952.0,655.0 953.0,655.2 954.0,655.5 955.0,655.8 956.0,656.1 957.0,656.4 958.0,656.9 959.0,657.4 960.0,658.0 961.0,658.6 962.0,659.2 963.0,659.7 964.0,660.1 965.0,660.5 966.0,660.7 967.0,661.0 968.0,661.2 969.0,661.4 970.0,661.5 971.0,661.6 972.0,661.6 973.0,661.3 974.0,660.9 975.0,660.4 976.0,659.9 977.0,659.4 978.0,658.8 979.0,658.1 980.0,657.3 981.0,656.4 982.0,655.4 983.0,654.4 984.0,653.4 985.0,652.4 986.0,651.4 987.0,650.5 988.0,649.6 989.0,648.7 990.0,648.0 991.0,647.2 992.0,646.5 993.0,645.8 994.0,645.1 995.0,644.5 996.0,643.9 997.0,643.6 998.0,643.3 999.0,643.1 1000.0,643.0 1001.0,642.8 1002.0,642.7 1003.0,642.5 1004.0,642.3 1005.0,642.0 1006.0,641.7 1007.0,641.3 1008.0,640.8 1009.0,640.3 1010.0,639.7 1011.0,639.0 1012.0,638.2 1013.0,637.3 1014.0,636.4 1015.0,635.6 1016.0,634.8 1017.0,634.0 1018.0,633.3 1019.0,632.6 1020.0,631.8 1021.0,630.9 1022.0,629.8 1023.0,628.4 1024.0,626.9 1025.0,625.3 1026.0,623.6 1027.0,622.0 1028.0,620.4 1029.0,618.7 1030.0,617.0 1031.0,615.3 1032.0,613.4 1033.0,611.6 1034.0,609.6 1035.0,607.7 1036.0,605.8 1037.0,603.9 1038.0,602.1 1039.0,600.4 1040.0,598.7 1041.0,597.2 1042.0,595.6 1043.0,594.1 1044.0,592.5 1045.0,591.0 1046.0,589.4 1047.0,587.9 1048.0,586.4 1049.0,585.0 1050.0,583.5 1051.0,582.1 1052.0,580.7 1053.0,579.2 1054.0,577.8 1055.0,576.4 1056.0,575.0 1057.0,573.5 1058.0,572.1 1059.0,570.7 1060.0,569.4 1061.0,568.0 1062.0,566.6 1063.0,565.2 1064.0,563.9 1065.0,562.5 1066.0,561.1 1067.0,559.7 1068.0,558.4 1069.0,557.0 1070.0,555.6 1071.0,554.2 1072.0,552.9 1073.0,551.5 1074.0,550.1 1075.0,548.8 1076.0,547.4 1077.0,546.1 1078.0,544.7 1079.0,543.3 1080.0,542.0 1081.0,540.7 1082.0,539.4 1083.0,538.3 1084.0,537.4 1085.0,536.7 1086.0,536.3 1087.0,536.1 1088.0,535.8 1089.0,535.4 1090.0,534.9 1091.0,534.4 1092.0,533.8 1093.0,533.2 1094.0,532.6 1095.0,532.0 1096.0,531.3 1097.0,530.5 1098.0,529.6 1099.0,528.5 1100.0,527.3 1101.0,526.2 1102.0,525.0 1103.0,523.8 1104.0,522.6 1105.0,521.4 1106.0,520.2 1107.0,519.0 1108.0,517.7 1109.0,516.4 1110.0,514.9 1111.0,513.4 1112.0,511.9 1113.0,510.3 1114.0,509.0 1115.0,507.7 1116.0,506.6 1117.0,505.6 1118.0,504.6 1119.0,503.6 1120.0,502.6 1121.0,501.6 1122.0,500.6 1123.0,499.5 1124.0,498.3 1125.0,497.1 1126.0,495.9 1127.0,494.7 1128.0,493.5 1129.0,492.3 1130.0,491.1 1131.0,489.9 1132.0,488.8 1133.0,487.9 1134.0,487.3 1135.0,486.9 1136.0,486.8 1137.0,486.8 1138.0,486.8 1139.0,486.8 1140.0,486.8 1141.0,486.9 1142.0,487.0 1143.0,487.2 1144.0,487.4 1145.0,487.6 1146.0,487.8 1147.0,487.9 1148.0,487.9 1149.0,487.7 1150.0,487.3 1151.0,486.7 1152.0,486.1 1153.0,485.5 1154.0,484.9 1155.0,484.2 1156.0,483.5 1157.0,482.8 1158.0,482.1 1159.0,481.4 1160.0,480.7 1161.0,480.0 1162.0,479.3 1163.0,478.6 1164.0,477.9 1165.0,477.2 1166.0,476.5 1167.0,475.8 1168.0,475.2 1169.0,474.5 1170.0,473.8 1171.0,473.2 1172.0,472.5 1173.0,471.8 1174.0,471.0 1175.0,470.2 1176.0,469.3 1177.0,468.4 1178.0,467.5 1179.0,466.5 1180.0,465.6 1181.0,464.7 1182.0,463.7 1183.0,462.8 1184.0,461.9 1185.0,461.0 1186.0,460.1 1187.0,459.2 1188.0,458.4 1189.0,457.5 1190.0,456.7 1191.0,455.8 1192.0,455.0 1193.0,454.1 1194.0,453.3 1195.0,452.4 1196.0,451.6 1197.0,450.8 1198.0,450.1 1199.0,449.3 1200.0,448.6 1201.0,448.1 1202.0,447.9 1203.0,448.0 1204.0,448.4 1205.0,448.9 1206.0,449.4 1207.0,450.0 1208.0,450.7 1209.0,451.5 1210.0,452.4 1211.0,453.3 1212.0,454.3 1213.0,455.3 1214.0,456.2 1215.0,457.0 1216.0,457.6 1217.0,457.8 1218.0,457.7 1219.0,457.5 1220.0,457.3 1221.0,456.9 1222.0,456.4 1223.0,455.6 1224.0,454.8 1225.0,453.8 1226.0,452.9 1227.0,452.0 1228.0,451.5 1229.0,451.2 1230.0,451.1 1231.0,451.2 1232.0,451.3 1233.0,451.5 1234.0,451.6 1235.0,451.7 1236.0,451.8 1237.0,451.9 1238.0,452.0 1239.0,452.0 1240.0,451.8 1241.0,451.4 1242.0,450.9 1243.0,450.2 1244.0,449.6 1245.0,448.9 1246.0,448.1 1247.0,447.3 1248.0,446.2 1249.0,445.0 1250.0,443.7 1251.0,442.3 1252.0,440.9 1253.0,439.5 1254.0,438.1 1255.0,436.6 1256.0,435.1 1257.0,433.6 1258.0,432.0 1259.0,430.4 1260.0,428.9 1261.0,427.3 1262.0,425.7 1263.0,424.1 1264.0,422.7 1265.0,421.5 1266.0,420.7 1267.0,420.4 1268.0,420.3 1269.0,420.4 1270.0,420.5 1271.0,420.6 1272.0,420.6 1273.0,420.7 1274.0,420.7 1275.0,420.6 1276.0,420.5 1277.0,420.5 1278.0,420.4 1279.0,420.3 1280.0,420.3 1281.0,420.4 1282.0,420.7 1283.0,421.5 1284.0,422.5 1285.0,423.7 1286.0,424.9 1287.0,426.1 1288.0,427.2 1289.0,428.2 1290.0,428.8 1291.0,429.0 1292.0,428.9 1293.0,428.5 1294.0,428.0 1295.0,427.4 1296.0,426.7 1297.0,425.8 1298.0,424.7 1299.0,423.6 1300.0,422.4 1301.0,421.2 1302.0,420.0 1303.0,418.7 1304.0,417.4 1305.0,416.1 1306.0,414.7 1307.0,413.2 1308.0,411.7 1309.0,410.0 1310.0,408.3 1311.0,406.5 1312.0,404.8 1313.0,403.0 1314.0,401.2 1315.0,399.3 1316.0,397.4 1317.0,395.4 1318.0,393.4 1319.0,391.5 1320.0,389.4 1321.0,387.3 1322.0,385.0 1323.0,382.6 1324.0,379.9 1325.0,377.2 1326.0,374.5 1327.0,371.7 1328.0,368.8 1329.0,365.8 1330.0,362.6 1331.0,359.1 1332.0,355.5 1333.0,351.8 1334.0,348.2 1335.0,344.6 1336.0,341.2 1337.0,338.0 1338.0,335.2 1339.0,333.0 1340.0,331.1 1341.0,329.5 1342.0,328.0 1343.0,326.6 1344.0,325.3 1345.0,324.1 1346.0,323.2 1347.0,322.3 1348.0,321.5 1349.0,320.7 1350.0,320.0 1351.0,319.4 1352.0,318.9 1353.0,318.6 1354.0,318.3 1355.0,318.0 1356.0,317.7 1357.0,317.5 1358.0,317.4 1359.0,317.3 1360.0,317.3 1361.0,317.4 1362.0,317.7 1363.0,318.1 1364.0,318.7 1365.0,319.5 1366.0,320.2 1367.0,320.8 1368.0,321.1 1369.0,320.9 1370.0,320.1 1371.0,318.9 1372.0,317.4 1373.0,315.6 1374.0,313.5 1375.0,311.4 1376.0,309.5 1377.0,308.0 1378.0,306.8 1379.0,305.8 1380.0,305.1 1381.0,304.5 1382.0,304.2 1383.0,303.9 1384.0,303.7 1385.0,303.5 1386.0,303.3 1387.0,303.0 1388.0,302.8 1389.0,302.6 1390.0,302.4 1391.0,302.2 1392.0,302.0 1393.0,301.9 1394.0,301.7 1395.0,301.5 1396.0,301.3 1397.0,301.1 1398.0,300.8 1399.0,300.5 1400.0,300.1 1401.0,299.6 1402.0,299.1 1403.0,298.5 1404.0,297.7 1405.0,296.8 1406.0,295.7 1407.0,294.6 1408.0,293.4 1409.0,292.3 1410.0,291.1 1411.0,290.2 1412.0,289.4 1413.0,289.1 1414.0,289.1 1415.0,289.2 1416.0,289.5 1417.0,289.8 1418.0,290.1 1419.0,290.4 1420.0,290.7 1421.0,291.0 1422.0,291.2 1423.0,291.2 1424.0,290.8 1425.0,290.2 1426.0,289.4 1427.0,288.5 1428.0,287.7 1429.0,286.8 1430.0,286.0 1431.0,285.3 1432.0,284.7 1433.0,284.0 1434.0,283.5 1435.0,282.9 1436.0,282.5 1437.0,282.3 1438.0,282.3 1439.0,282.6 1440.0,283.1 1441.0,283.6 1442.0,284.3 1443.0,285.1 1444.0,286.1 1445.0,287.3 1446.0,288.4 1447.0,289.5 1448.0,290.4 1449.0,291.1 1450.0,291.5 1451.0,291.8 1452.0,292.0 1453.0,292.1 1454.0,292.2 1455.0,292.2 1456.0,292.1 1457.0,292.0 1458.0,291.8 1459.0,291.6 1460.0,291.4 1461.0,290.9 1462.0,290.3 1463.0,289.6 1464.0,288.8 1465.0,287.8 1466.0,286.5 1467.0,284.8 1468.0,282.7 1469.0,280.3 1470.0,277.7 1471.0,274.9 1472.0,271.9 1473.0,268.7 1474.0,265.4 1475.0,262.0 1476.0,258.3 1477.0,254.3 1478.0,250.1 1479.0,245.7 1480.0,241.3 1481.0,236.9 1482.0,232.6 1483.0,228.2 1483.5,226.0" stroke="#4a9c8c" stroke-width="1.15"/>
</g>
<g clip-path="url(#pane)">
<path d="M8.5,757.0V770.0M13.5,744.0V755.0M28.5,750.0V767.0M38.5,741.0V752.0M48.5,737.0V748.0M52.5,728.0V743.0M57.5,713.0V727.7M67.5,728.0V740.0M92.5,763.0V774.5M97.5,748.0V763.5M116.5,771.6V786.0M121.5,768.1V775.0M126.5,755.2V773.9M131.5,750.2V757.7M151.5,762.4V771.6M165.5,763.3V775.6M170.5,759.8V766.4M175.5,748.3V757.7M180.5,740.2V750.6M185.5,748.3V755.4M190.5,743.0V750.2M200.5,748.1V756.2M205.5,742.4V749.3M210.5,744.1V748.1M214.5,743.0V747.6M234.5,749.8V761.4M239.5,741.0V749.0M249.5,734.0V746.1M254.5,727.9V736.6M269.5,721.3V730.6M273.5,716.4V723.6M278.5,706.0V720.4M283.5,709.4V720.4M288.5,707.1V712.9M293.5,708.1V720.8M323.5,756.0V763.5M327.5,739.0V758.9M332.5,723.1V731.8M337.5,713.0V730.6M362.5,722.0V734.1M377.5,728.9V748.5M386.5,735.4V748.7M396.5,728.3V734.5M401.5,707.7V717.5M411.5,711.2V722.7M416.5,716.0V725.6M450.5,734.3V751.6M460.5,737.2V743.5M470.5,732.5V746.7M480.5,720.0V735.6M485.5,716.0V724.1M494.5,723.0V731.0M514.5,730.5V739.7M519.5,716.0V727.6M524.5,710.8V717.7M529.5,706.8V716.6M534.5,694.1V706.8M544.5,694.1V709.1M553.5,695.8V702.7M563.5,688.9V698.7M568.5,675.0V695.8M578.5,666.0V678.7M593.5,667.1V675.2M607.5,674.0V682.7M617.5,667.1V677.5M637.5,683.3V693.7M647.5,689.1V698.7M656.5,688.5V697.7M661.5,683.3V697.7M666.5,691.4V699.7M676.5,688.3V698.9M691.5,696.6V714.5M696.5,688.0V699.5M711.5,688.5V704.7M720.5,686.2V692.0M730.5,679.0V688.0M745.5,683.3V691.4M750.5,672.9V681.6M755.5,666.0V677.5M760.5,655.3V668.6M765.5,648.1V662.5M779.5,657.3V671.8M784.5,655.0V663.7M789.5,658.5V667.7M794.5,644.1V650.4M809.5,649.3V656.8M823.5,637.7V647.5M838.5,630.2V643.5M853.5,635.2V647.5M863.5,651.0V667.7M873.5,656.2V672.9M882.5,655.6V669.8M887.5,655.0V666.0M892.5,646.4V657.9M897.5,633.1V647.5M912.5,637.9V653.0M917.5,634.2V638.9M941.5,660.2V676.7M951.5,649.8V660.5M956.5,653.3V662.6M976.5,652.7V667.8M981.5,644.1V652.2M986.5,623.9V636.6M995.5,623.9V633.7M1010.5,630.2V640.6M1015.5,615.8V630.2M1025.5,595.0V609.4M1030.5,570.3V594.6M1044.5,565.3V576.6M1054.5,548.1V564.6M1059.5,545.1V554.8M1074.5,515.0V541.8M1094.5,527.1V540.6M1098.5,516.5V527.8M1103.5,497.0V510.5M1108.5,487.3V506.0M1113.5,467.3V479.8M1133.5,471.1V489.1M1143.5,500.3V520.6M1157.5,461.3V476.3M1172.5,452.3V462.8M1177.5,451.2V468.1M1182.5,441.0V462.1M1187.5,441.0V453.8M1197.5,440.3V446.7M1211.5,455.3V495.1M1221.5,447.1V484.6M1226.5,423.8V445.6M1241.5,444.1V458.3M1251.5,410.3V439.6M1256.5,407.3V429.8M1265.5,393.8V410.3M1275.5,408.0V440.3M1295.5,426.1V480.6M1300.5,378.1V426.1M1310.5,376.2V398.4M1315.5,354.0V375.3M1319.5,338.2V352.8M1334.5,276.0V319.8M1359.5,308.1V324.3M1373.5,260.7V331.2M1378.5,267.7V296.3M1403.5,292.4V311.3M1408.5,261.0V289.2M1428.5,255.0V299.6M1437.5,255.0V288.5M1452.5,293.3V343.6M1457.5,278.1V306.5M1467.5,248.3V294.7M1472.5,217.0V261.2M1477.5,154.7V224.0" stroke="#3b8b76" stroke-width="1" fill="none"/>
<path d="M3.5,764.0V772.7M18.5,734.0V747.0M23.5,745.0V762.0M33.5,752.0V763.5M43.5,740.0V754.0M62.5,715.0V730.6M72.5,731.0V751.7M77.5,748.0V763.0M82.5,750.0V767.5M87.5,755.0V774.5M102.5,750.2V765.8M106.5,755.2V768.7M111.5,766.4V776.8M136.5,750.2V763.3M141.5,759.5V769.9M146.5,767.3V774.8M156.5,761.2V774.8M160.5,771.6V778.5M195.5,745.2V755.6M219.5,736.9V752.5M224.5,748.1V755.6M229.5,752.2V763.7M244.5,742.1V749.1M259.5,727.1V735.7M264.5,730.2V738.9M298.5,711.0V722.9M303.5,717.1V733.0M308.5,731.0V744.5M313.5,731.8V747.4M318.5,737.0V762.4M342.5,707.9V715.6M347.5,710.6V726.0M352.5,719.9V730.6M357.5,728.3V742.7M367.5,723.1V730.6M372.5,719.1V739.9M381.5,732.5V745.7M391.5,727.9V738.9M406.5,699.0V714.1M421.5,713.3V719.8M426.5,712.9V721.6M431.5,713.3V721.8M435.5,718.7V727.3M440.5,723.0V739.8M445.5,735.2V750.7M455.5,734.3V744.7M465.5,736.0V743.5M475.5,725.0V737.7M490.5,716.0V730.5M499.5,724.7V734.5M504.5,727.0V732.8M509.5,729.3V740.8M539.5,692.9V709.7M548.5,694.1V704.8M558.5,694.1V701.6M573.5,677.3V685.5M583.5,653.9V668.6M588.5,663.1V675.8M598.5,664.2V675.8M602.5,662.0V674.6M612.5,672.3V683.9M622.5,667.1V675.8M627.5,670.6V678.7M632.5,681.0V694.3M642.5,688.0V700.6M652.5,692.0V700.6M671.5,683.9V694.9M681.5,691.4V703.5M686.5,691.4V703.5M701.5,683.9V707.6M706.5,701.8V725.0M715.5,687.4V698.9M725.5,681.0V690.8M735.5,683.3V688.0M740.5,689.1V695.4M769.5,650.4V659.7M774.5,655.0V670.6M799.5,640.3V647.5M804.5,645.2V656.8M814.5,640.3V649.8M819.5,635.2V646.7M828.5,634.2V647.5M833.5,642.3V653.9M843.5,630.2V636.8M848.5,633.1V645.2M858.5,633.1V656.8M868.5,648.1V662.5M877.5,652.7V668.9M902.5,633.1V642.9M907.5,635.2V646.7M922.5,633.1V646.4M927.5,639.4V651.3M931.5,647.5V657.3M936.5,657.1V668.9M946.5,655.0V666.6M961.5,644.1V669.5M966.5,661.4V676.4M971.5,656.8V665.4M990.5,626.8V636.0M1000.5,625.0V643.5M1005.5,629.1V650.4M1020.5,612.9V628.5M1035.5,568.3V590.1M1040.5,572.1V582.6M1049.5,558.3V567.6M1064.5,546.3V555.9M1069.5,539.8V551.1M1079.5,506.8V520.3M1084.5,506.0V521.8M1089.5,521.8V545.8M1118.5,464.3V485.3M1123.5,468.8V502.6M1128.5,480.1V499.6M1138.5,472.6V492.8M1148.5,489.1V496.6M1152.5,475.6V486.8M1162.5,455.3V469.6M1167.5,452.3V477.1M1192.5,441.0V451.5M1202.5,423.0V458.0M1207.5,441.1V470.3M1216.5,470.3V487.6M1231.5,426.0V450.8M1236.5,438.1V460.6M1246.5,428.3V451.6M1261.5,395.3V415.5M1270.5,392.3V432.8M1280.5,414.0V440.3M1285.5,421.5V458.3M1290.5,428.6V464.0M1305.5,380.8V406.7M1324.5,323.0V346.5M1329.5,283.0V331.9M1339.5,291.2V321.7M1344.5,295.0V328.7M1349.5,310.9V337.6M1354.5,314.1V329.3M1364.5,307.1V336.3M1369.5,328.1V360.5M1383.5,270.9V305.8M1388.5,294.4V324.3M1393.5,289.3V315.4M1398.5,281.2V311.4M1413.5,267.0V286.4M1418.5,267.7V306.5M1423.5,283.2V311.3M1432.5,245.3V276.7M1442.5,266.0V302.3M1447.5,283.2V330.7M1462.5,273.9V296.5M1482.5,127.8V161.6" stroke="#cf4440" stroke-width="1" fill="none"/>
<path d="M7,757.0h3v13.0h-3zM12,744.0h3v5.6h-3zM27,753.7h3v12.7h-3zM37,742.0h3v8.0h-3zM47,737.0h3v10.0h-3zM51,730.0h3v8.0h-3zM56,719.6h3v6.4h-3zM66,731.0h3v4.8h-3zM91,765.8h3v8.7h-3zM96,748.5h3v14.5h-3zM115,772.7h3v1.0h-3zM120,769.3h3v2.3h-3zM125,756.0h3v15.0h-3zM130,753.7h3v3.5h-3zM150,763.5h3v6.4h-3zM164,767.6h3v4.0h-3zM169,760.0h3v1.0h-3zM174,749.0h3v8.7h-3zM179,746.8h3v3.8h-3zM184,749.9h3v2.1h-3zM189,746.8h3v1.7h-3zM199,748.1h3v5.2h-3zM204,745.2h3v4.1h-3zM209,745.6h3v1.0h-3zM213,743.3h3v4.3h-3zM233,750.4h3v11.0h-3zM238,741.2h3v5.2h-3zM248,734.3h3v11.5h-3zM253,733.7h3v2.3h-3zM268,722.1h3v8.1h-3zM272,718.7h3v4.0h-3zM277,709.4h3v6.4h-3zM282,712.9h3v1.0h-3zM287,711.0h3v1.0h-3zM292,712.1h3v7.6h-3zM322,757.8h3v5.2h-3zM326,739.3h3v16.2h-3zM331,724.8h3v7.0h-3zM336,713.3h3v14.4h-3zM361,723.1h3v5.2h-3zM376,730.6h3v8.7h-3zM385,738.3h3v1.0h-3zM395,729.1h3v4.6h-3zM400,708.3h3v5.8h-3zM410,719.3h3v1.1h-3zM415,716.4h3v6.9h-3zM449,736.6h3v11.5h-3zM459,737.2h3v3.4h-3zM469,733.7h3v8.1h-3zM479,720.2h3v15.3h-3zM484,718.9h3v3.5h-3zM493,724.1h3v4.0h-3zM513,730.5h3v9.2h-3zM518,716.0h3v8.7h-3zM523,712.6h3v4.6h-3zM528,707.4h3v9.2h-3zM533,697.0h3v9.8h-3zM543,694.7h3v13.8h-3zM552,698.7h3v1.0h-3zM562,691.8h3v4.0h-3zM567,681.4h3v12.1h-3zM577,666.0h3v12.7h-3zM592,670.0h3v1.8h-3zM606,676.4h3v1.1h-3zM616,669.4h3v4.1h-3zM636,689.1h3v4.0h-3zM646,689.4h3v6.0h-3zM655,689.7h3v4.0h-3zM660,687.3h3v4.1h-3zM665,695.6h3v1.0h-3zM675,693.1h3v2.9h-3zM690,696.6h3v3.5h-3zM695,693.1h3v3.5h-3zM710,689.1h3v4.6h-3zM719,686.2h3v5.8h-3zM729,682.2h3v1.0h-3zM744,683.3h3v6.9h-3zM749,673.5h3v6.9h-3zM754,670.0h3v7.5h-3zM759,656.5h3v11.0h-3zM764,656.2h3v6.3h-3zM778,662.5h3v2.9h-3zM783,655.6h3v5.2h-3zM788,659.4h3v1.0h-3zM793,644.1h3v6.3h-3zM808,650.2h3v1.0h-3zM822,638.9h3v5.7h-3zM837,630.2h3v13.3h-3zM852,637.1h3v5.8h-3zM862,655.0h3v2.9h-3zM872,659.1h3v3.4h-3zM881,657.9h3v6.9h-3zM886,655.6h3v6.4h-3zM891,646.4h3v8.6h-3zM896,639.8h3v4.3h-3zM911,638.6h3v6.6h-3zM916,636.3h3v1.7h-3zM940,663.7h3v4.0h-3zM950,650.4h3v5.2h-3zM955,653.9h3v5.8h-3zM975,653.9h3v8.7h-3zM980,644.1h3v6.9h-3zM985,627.3h3v8.7h-3zM994,629.7h3v1.1h-3zM1009,630.2h3v9.8h-3zM1014,619.8h3v10.4h-3zM1024,595.6h3v13.8h-3zM1029,572.1h3v22.5h-3zM1043,567.6h3v7.5h-3zM1053,548.8h3v11.3h-3zM1058,546.9h3v3.9h-3zM1073,522.6h3v17.2h-3zM1093,529.3h3v6.8h-3zM1097,516.5h3v5.3h-3zM1102,506.0h3v3.8h-3zM1107,489.5h3v14.3h-3zM1112,471.8h3v4.5h-3zM1132,474.1h3v7.5h-3zM1142,504.1h3v3.8h-3zM1156,462.1h3v14.2h-3zM1171,456.1h3v3.7h-3zM1176,451.5h3v1.2h-3zM1181,451.2h3v2.6h-3zM1186,445.5h3v5.3h-3zM1196,440.3h3v3.2h-3zM1210,471.1h3v9.8h-3zM1220,447.1h3v37.5h-3zM1225,424.5h3v9.1h-3zM1240,445.6h3v2.2h-3zM1250,412.5h3v26.3h-3zM1255,410.7h3v4.8h-3zM1264,394.5h3v3.0h-3zM1274,411.8h3v21.8h-3zM1294,427.0h3v37.9h-3zM1299,379.0h3v47.1h-3zM1309,379.9h3v18.5h-3zM1314,362.3h3v8.4h-3zM1318,338.9h3v6.3h-3zM1333,277.2h3v31.2h-3zM1358,309.0h3v9.5h-3zM1372,262.6h3v66.1h-3zM1377,270.9h3v1.0h-3zM1402,296.1h3v9.7h-3zM1407,269.8h3v17.3h-3zM1427,259.4h3v31.2h-3zM1436,277.1h3v6.5h-3zM1451,302.3h3v11.1h-3zM1456,283.2h3v23.3h-3zM1466,249.4h3v37.0h-3zM1471,241.3h3v6.1h-3zM1476,166.8h3v54.6h-3z" fill="#3b8b76"/>
<path d="M2,766.0h3v6.7h-3zM17,740.0h3v6.0h-3zM22,746.8h3v14.2h-3zM32,752.0h3v1.7h-3zM42,740.0h3v13.7h-3zM61,715.6h3v12.1h-3zM71,731.8h3v16.2h-3zM76,748.5h3v11.5h-3zM81,752.5h3v5.2h-3zM86,755.4h3v19.1h-3zM101,750.8h3v15.0h-3zM105,756.6h3v9.2h-3zM110,772.2h3v4.6h-3zM135,753.1h3v9.9h-3zM140,765.2h3v1.5h-3zM145,767.3h3v1.0h-3zM155,762.9h3v11.6h-3zM159,774.5h3v1.7h-3zM194,745.8h3v8.7h-3zM218,737.7h3v13.3h-3zM223,748.4h3v6.6h-3zM228,756.8h3v5.8h-3zM243,743.0h3v5.7h-3zM258,729.7h3v5.7h-3zM263,732.9h3v2.0h-3zM297,711.6h3v10.9h-3zM302,717.9h3v14.5h-3zM307,731.2h3v2.3h-3zM312,732.4h3v14.4h-3zM317,743.9h3v18.5h-3zM341,711.8h3v1.2h-3zM346,711.6h3v9.2h-3zM351,720.2h3v9.8h-3zM356,728.9h3v7.5h-3zM366,723.7h3v1.1h-3zM371,725.2h3v14.1h-3zM380,733.4h3v10.3h-3zM390,732.5h3v2.9h-3zM405,708.9h3v4.6h-3zM420,715.6h3v1.1h-3zM425,714.6h3v2.9h-3zM430,714.1h3v7.5h-3zM434,721.0h3v5.2h-3zM439,723.3h3v13.3h-3zM444,735.2h3v15.5h-3zM454,737.2h3v4.0h-3zM464,736.6h3v6.3h-3zM474,728.0h3v9.2h-3zM489,720.0h3v10.5h-3zM498,725.3h3v8.6h-3zM503,731.0h3v1.2h-3zM508,729.9h3v10.9h-3zM538,700.4h3v9.3h-3zM547,694.4h3v10.4h-3zM557,694.7h3v1.1h-3zM572,677.3h3v5.0h-3zM582,659.0h3v9.6h-3zM587,667.1h3v4.7h-3zM597,664.8h3v1.2h-3zM601,662.0h3v12.6h-3zM611,672.9h3v3.5h-3zM621,667.1h3v5.8h-3zM626,671.2h3v7.5h-3zM631,681.0h3v13.3h-3zM641,688.5h3v12.1h-3zM651,693.7h3v6.9h-3zM670,693.7h3v1.2h-3zM680,692.0h3v8.6h-3zM685,697.7h3v5.8h-3zM700,688.0h3v19.6h-3zM705,705.8h3v8.1h-3zM714,688.5h3v9.8h-3zM724,685.0h3v1.8h-3zM734,685.0h3v3.0h-3zM739,690.2h3v3.5h-3zM768,652.1h3v7.0h-3zM773,655.6h3v13.9h-3zM798,644.1h3v3.4h-3zM803,649.8h3v7.0h-3zM813,643.3h3v2.5h-3zM818,638.9h3v7.8h-3zM827,634.2h3v13.3h-3zM832,642.9h3v5.2h-3zM842,630.2h3v2.9h-3zM847,633.7h3v10.9h-3zM857,633.7h3v20.2h-3zM867,648.7h3v13.3h-3zM876,656.8h3v12.1h-3zM901,636.6h3v3.4h-3zM906,637.7h3v8.7h-3zM921,636.0h3v5.2h-3zM926,646.0h3v2.7h-3zM930,648.1h3v5.8h-3zM935,659.1h3v8.6h-3zM945,655.6h3v9.8h-3zM960,650.4h3v19.1h-3zM965,662.6h3v7.5h-3zM970,662.0h3v3.4h-3zM989,632.5h3v1.2h-3zM999,626.8h3v16.1h-3zM1004,633.1h3v17.3h-3zM1019,612.9h3v13.3h-3zM1034,568.3h3v6.8h-3zM1039,572.9h3v5.2h-3zM1048,564.9h3v2.4h-3zM1063,546.9h3v4.9h-3zM1068,540.6h3v5.2h-3zM1078,506.8h3v13.5h-3zM1083,515.0h3v6.8h-3zM1088,522.3h3v19.5h-3zM1117,468.8h3v12.8h-3zM1122,469.6h3v18.7h-3zM1127,480.8h3v1.1h-3zM1137,474.4h3v18.4h-3zM1147,490.3h3v3.3h-3zM1151,476.3h3v6.5h-3zM1161,458.3h3v1.1h-3zM1166,456.1h3v10.5h-3zM1191,441.8h3v4.9h-3zM1201,425.3h3v10.5h-3zM1206,450.1h3v20.2h-3zM1215,475.9h3v6.0h-3zM1230,435.1h3v9.7h-3zM1235,441.8h3v18.0h-3zM1245,433.9h3v4.9h-3zM1260,404.3h3v7.5h-3zM1269,392.3h3v39.0h-3zM1279,415.5h3v24.8h-3zM1284,431.3h3v12.8h-3zM1289,444.1h3v15.1h-3zM1304,390.1h3v12.0h-3zM1323,323.6h3v12.1h-3zM1328,293.1h3v25.4h-3zM1338,293.8h3v12.7h-3zM1343,295.0h3v14.6h-3zM1348,312.2h3v11.4h-3zM1353,324.3h3v4.4h-3zM1363,307.7h3v28.6h-3zM1368,331.2h3v15.3h-3zM1382,273.4h3v22.9h-3zM1387,307.1h3v1.3h-3zM1392,298.2h3v1.0h-3zM1397,296.2h3v6.2h-3zM1412,270.7h3v7.0h-3zM1417,268.4h3v31.8h-3zM1422,292.6h3v5.6h-3zM1431,260.1h3v16.6h-3zM1441,273.0h3v29.3h-3zM1446,290.6h3v29.0h-3zM1461,283.2h3v5.6h-3zM1481,140.8h3v10.4h-3z" fill="#cf4440"/>
</g>
<line x1="4" y1="232.5" x2="1440" y2="232.5" stroke="#5c5f63" stroke-width="1" stroke-dasharray="1 2"/>
<text x="1492.5" y="822.9" class="ax">20.00</text>
<text x="1492.5" y="777.8" class="ax">24.00</text>
<text x="1492.5" y="732.8" class="ax">28.00</text>
<text x="1492.5" y="687.7" class="ax">32.00</text>
<text x="1492.5" y="642.6" class="ax">36.00</text>
<text x="1492.5" y="597.6" class="ax">40.00</text>
<text x="1492.5" y="552.5" class="ax">44.00</text>
<text x="1492.5" y="507.4" class="ax">48.00</text>
<text x="1492.5" y="462.4" class="ax">52.00</text>
<text x="1492.5" y="417.3" class="ax">56.00</text>
<text x="1492.5" y="372.2" class="ax">60.00</text>
<text x="1492.5" y="327.2" class="ax">64.00</text>
<text x="1492.5" y="282.1" class="ax">68.00</text>
<text x="1492.5" y="237.0" class="ax">72.00</text>
<text x="1492.5" y="192.0" class="ax">76.00</text>
<text x="1492.5" y="146.9" class="ax">80.00</text>
<text x="1492.5" y="101.8" class="ax">84.00</text>
<text x="1492.5" y="56.8" class="ax">88.00</text>
<rect x="1484.5" y="142.5" width="46" height="16" rx="1.5" fill="#fff" stroke="#c0474a" stroke-width="1"/>
<text x="1493" y="154.9" class="lb" fill="#cc4a50">79.38</text>
<rect x="1484.5" y="539.5" width="46" height="16" rx="1.5" fill="#fff" stroke="#b9454a" stroke-width="1"/>
<text x="1493" y="551.9" class="lb" fill="#c6474c">44.13</text>
<rect x="1484.5" y="256.0" width="46" height="15.5" rx="1.5" fill="#fff" stroke="#3b8b76" stroke-width="1"/>
<text x="1493" y="267.9" class="lb" fill="#3b8b76">72.01</text>
<rect x="1484.5" y="272.5" width="46" height="16" rx="1.5" fill="#fff" stroke="#eda24a" stroke-width="1"/>
<text x="1493" y="284.5" class="lb" fill="#e3a04f">69.80</text>
<rect x="1484.5" y="289.0" width="46" height="16.5" rx="1.5" fill="#fff" stroke="#d9773a" stroke-width="1"/>
<text x="1493" y="301.9" class="lb" fill="#d0703e">66.55</text>
<path d="M1442,224h41v16.7h-41a2,2 0 0 1 -2,-2v-12.7a2,2 0 0 1 2,-2z" fill="#3b8b76"/>
<text x="1445.5" y="236.9" class="lb2" fill="#dff7ec">CSCO</text>
<path d="M1484,224h62.7a3,3 0 0 1 3,3v24.6a3,3 0 0 1 -3,3h-62.7z" fill="#3b8b76"/>
<text x="1493" y="236.9" class="lb" fill="#e3f7ee">72.08</text>
<text x="1493" y="250.8" class="lb" fill="#e3f7ee">01:45:07</text>
</svg>

<svg width="1556" height="866" viewBox="0 0 1556 866" style="position:absolute;left:0;top:0">
<rect x="4" y="1" width="708" height="27" fill="#fff" fill-opacity="0.7"/>
<!-- logo -->
<circle cx="21.9" cy="14.9" r="8.9" fill="#3f8bd0"/>
<g fill="#e8f4ff">
<rect x="16.6" y="14.2" width="1.2" height="1.4" rx="0.5"/>
<rect x="18.4" y="13.2" width="1.2" height="3.4" rx="0.5"/>
<rect x="20.2" y="14" width="1.2" height="1.8" rx="0.5"/>
<rect x="22.2" y="14" width="1.2" height="1.8" rx="0.5"/>
<rect x="24.1" y="13.2" width="1.2" height="3.4" rx="0.5"/>
<rect x="25.9" y="14.2" width="1.2" height="1.4" rx="0.5"/>
</g>
<text x="35.5" y="20.8" font-family="Liberation Sans" font-size="16" letter-spacing="-0.2" fill="#131722">Cisco Systems, Inc. · 1D · NASDAQ</text>
<!-- pill -->
<path d="M303.3,6.6h11v17h-11a8.5,8.5 0 0 1 0,-17z" fill="#e2ece9"/>
<path d="M314.3,6.6h10.6a8.5,8.5 0 0 1 0,17h-10.6z" fill="#f7e1e6"/>
<circle cx="304.9" cy="14.9" r="3.9" fill="#3b8b76"/>
<path d="M319.2,13.6c1.2,-1.3 2.2,-1.3 3.6,-0.4c1.4,0.9 2.5,0.9 3.8,-0.4M319.2,17.5c1.2,-1.3 2.2,-1.3 3.6,-0.4c1.4,0.9 2.5,0.9 3.8,-0.4" fill="none" stroke="#c8335c" stroke-width="1.3" stroke-linecap="round"/>
<!-- OHLC -->
<g font-family="Liberation Sans" font-size="13">
<text x="342.2" y="19.9" fill="#131722">O</text>
<text x="353" y="19.9" fill="#4f8d7c" letter-spacing="0.55">71.20</text>
<text x="395" y="19.9" fill="#131722">H</text>
<text x="407.8" y="19.9" fill="#4f8d7c" letter-spacing="0.55">72.23</text>
<text x="448.2" y="19.9" fill="#131722">L</text>
<text x="457" y="19.9" fill="#4f8d7c" letter-spacing="0.55">71.03</text>
<text x="498.5" y="19.9" fill="#131722">C</text>
<text x="508.8" y="19.9" fill="#4f8d7c" letter-spacing="0.55">72.08</text>
<text x="550.8" y="19.9" fill="#4f8d7c" letter-spacing="0.45">+0.69 (+0.96%)</text>
<text x="654.2" y="19.9" fill="#131722">Vol</text>
<text x="674.3" y="19.9" fill="#4f8d7c" letter-spacing="1">8.7M</text>
</g>
<!-- top right buttons -->
<rect x="1427.5" y="3.5" width="23" height="23" rx="4" fill="#fff" stroke="#e9e9ec"/>
<path d="M1439.4,11.2V20.2M1435.3,16.2l4.1,4.1l4.2,-4.1" fill="none" stroke="#131722" stroke-width="1.25" stroke-linecap="round" stroke-linejoin="round"/>
<rect x="1455.5" y="3.5" width="23" height="23" rx="4" fill="#fff" stroke="#e9e9ec"/>
<path d="M1462.4,13.5v-1.2a2,2 0 0 1 2,-2h6.3a2,2 0 0 1 2,2v1.2M1462.4,17.2v1.2a2,2 0 0 0 2,2h6.3a2,2 0 0 0 2,-2v-1.2" fill="none" stroke="#131722" stroke-width="1.25" stroke-linecap="round"/>
<rect x="1487.5" y="3.5" width="63" height="25" rx="4" fill="#fff" stroke="#e9e9ec"/>
<text x="1491.5" y="19.8" font-family="Liberation Sans" font-size="12" fill="#131722">USD</text>
<path d="M1541,15.2l2.6,2.5l2.6,-2.5" fill="none" stroke="#131722" stroke-width="1.2" stroke-linecap="round" stroke-linejoin="round"/>
<!-- trade buttons -->
<rect x="12.5" y="31.5" width="57" height="33" rx="6" fill="#fff" stroke="#cf4a50"/>
<text x="24" y="45" font-family="Liberation Sans" font-size="13.5" fill="#c8404a" stroke="#c8404a" stroke-width="0.35">72.07</text>
<rect x="108.5" y="31.5" width="56" height="33" rx="6" fill="#fff" stroke="#4a63d6"/>
<text x="120" y="45" font-family="Liberation Sans" font-size="13.5" fill="#3652cc" stroke="#3652cc" stroke-width="0.35">72.08</text>
<text x="125.4" y="58.6" font-family="Liberation Sans" font-size="11" fill="#4a63d6">BUY</text>
<!-- tooltip -->
<rect x="-6" y="43" width="131.5" height="23.3" rx="3" fill="#1f1f1f"/>
<path d="M39,66.2h10l-5,4.6z" fill="#1f1f1f"/>
<text x="112.3" y="59.8" text-anchor="end" font-family="Liberation Sans" font-size="13.3" fill="#ececec">Moving Average Ribbon</text>
<!-- legend box -->
<rect x="8.5" y="69.5" width="445" height="23" rx="4" fill="#fff" stroke="#e0e3eb"/>
<text x="13.4" y="85.6" font-family="Liberation Sans" font-size="13" letter-spacing="0.42" fill="#131722">MA Ribbon WMA 10 WMA 20 WMA 50 SMA 200</text>
<g fill="none" stroke="#131722" stroke-width="1.15" stroke-linejoin="round" stroke-linecap="round">
<path d="M319.4,81c2.2,-3.8 4.8,-5.6 7.6,-5.6c2.8,0 5.4,1.8 7.6,5.6c-2.2,3.8 -4.8,5.6 -7.6,5.6c-2.8,0 -5.4,-1.8 -7.6,-5.6z"/>
<circle cx="327" cy="81" r="2.4"/>
<path d="M348.2,81l3.1,-5.6h7.5l3.1,5.6l-3.1,5.6h-7.5z"/>
<circle cx="355" cy="81" r="2.1"/>
<path d="M380.6,75.4h-1.3a1.3,1.3 0 0 0 -1.3,1.3v2.6a1.7,1.7 0 0 1 -1.7,1.7a1.7,1.7 0 0 1 1.7,1.7v2.6a1.3,1.3 0 0 0 1.3,1.3h1.3"/>
<path d="M385.3,75.4h1.3a1.3,1.3 0 0 1 1.3,1.3v2.6a1.7,1.7 0 0 0 1.7,1.7a1.7,1.7 0 0 0 -1.7,1.7v2.6a1.3,1.3 0 0 1 -1.3,1.3h-1.3"/>
<path d="M405.3,77.3h11.5M408.9,77.3v-1a1,1 0 0 1 1,-1h2.8a1,1 0 0 1 1,1v1M406.3,77.3l1.2,9.3h7.2l1.2,-9.3"/>
</g>
<g fill="#2a2e39"><circle cx="432.6" cy="81" r="1.8"/><circle cx="438.9" cy="81" r="1.8"/><circle cx="445.1" cy="81" r="1.8"/></g>
<text x="453.6" y="85.6" font-family="Liberation Sans" font-size="13" fill="#d0474d" letter-spacing="0.3">4.53</text>
<!-- collapse button -->
<rect x="12.5" y="96.5" width="28" height="20" rx="3" fill="#fff" stroke="#e0e3eb"/>
<path d="M23.2,108l3.3,-3.3l3.3,3.3" fill="none" stroke="#131722" stroke-width="1.4" stroke-linecap="round" stroke-linejoin="round"/>
</svg>
</body></html>
